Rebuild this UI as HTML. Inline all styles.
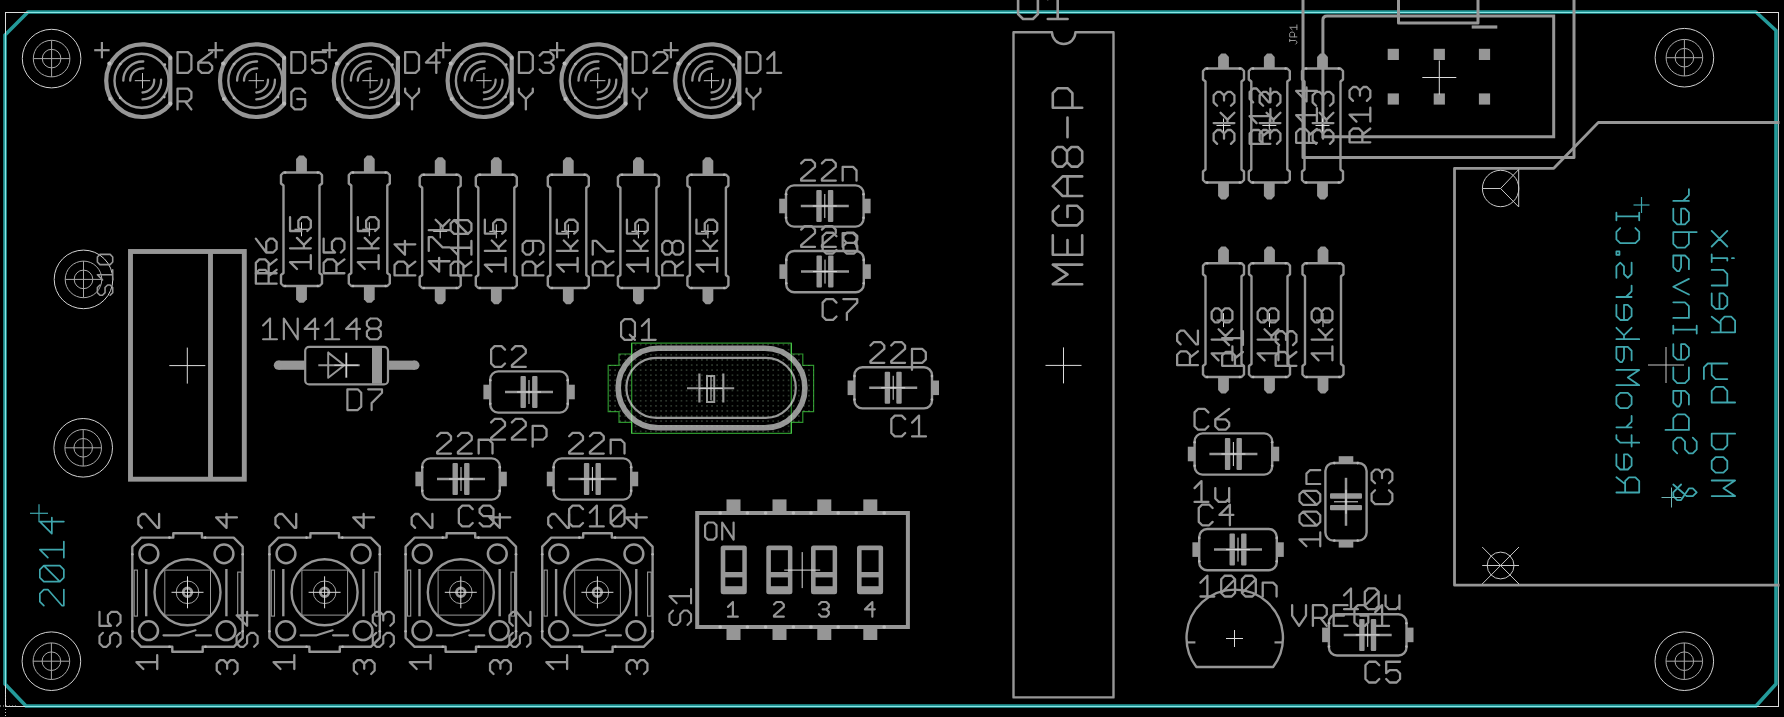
<!DOCTYPE html><html><head><meta charset="utf-8"><title>Board</title><style>html,body{margin:0;padding:0;background:#000;width:1784px;height:717px;overflow:hidden;font-family:"Liberation Sans",sans-serif;}svg{display:block}</style></head><body><svg width="1784" height="717" viewBox="0 0 1784 717"><defs><pattern id="dots" x="0.6" y="0.4" width="5.1" height="5.1" patternUnits="userSpaceOnUse"><rect x="2" y="2" width="1.1" height="1.1" fill="#a8d0a8" fill-opacity="0.6"/></pattern></defs><rect width="1784" height="717" fill="#000"/><path d="M28.00 12.00 L1756.00 12.00 L1776.00 30.50 L1776.00 684.00 L1756.00 706.00 L26.00 706.00 L5.00 684.00 L5.00 35.00 Z" fill="none" stroke="#249a9a" stroke-width="3.60" stroke-linecap="butt" stroke-linejoin="round"/>
<line x1="5.50" y1="12.50" x2="1778.50" y2="12.50" stroke="#8ae6e6" stroke-width="1.00" stroke-linecap="butt"/>
<line x1="5.50" y1="706.50" x2="1778.50" y2="706.50" stroke="#8ae6e6" stroke-width="1.00" stroke-linecap="butt"/>
<line x1="5.50" y1="12.50" x2="5.50" y2="706.50" stroke="#8ae6e6" stroke-width="1.00" stroke-linecap="butt"/>
<line x1="1778.50" y1="12.50" x2="1778.50" y2="706.50" stroke="#b8b8b8" stroke-width="1.00" stroke-linecap="butt"/>
<line x1="5.00" y1="12.50" x2="28.00" y2="12.50" stroke="#dcdcdc" stroke-width="1.00" stroke-linecap="butt"/>
<line x1="5.50" y1="12.00" x2="5.50" y2="34.00" stroke="#dcdcdc" stroke-width="1.00" stroke-linecap="butt"/>
<line x1="1756.00" y1="12.50" x2="1779.00" y2="12.50" stroke="#dcdcdc" stroke-width="1.00" stroke-linecap="butt"/>
<line x1="1778.50" y1="12.00" x2="1778.50" y2="30.00" stroke="#dcdcdc" stroke-width="1.00" stroke-linecap="butt"/>
<line x1="1757.00" y1="706.50" x2="1779.00" y2="706.50" stroke="#dcdcdc" stroke-width="1.00" stroke-linecap="butt"/>
<line x1="1778.50" y1="685.00" x2="1778.50" y2="707.00" stroke="#dcdcdc" stroke-width="1.00" stroke-linecap="butt"/>
<line x1="5.50" y1="685.00" x2="5.50" y2="707.00" stroke="#dcdcdc" stroke-width="1.00" stroke-linecap="butt"/>
<line x1="5.00" y1="706.50" x2="25.00" y2="706.50" stroke="#dcdcdc" stroke-width="1.00" stroke-linecap="butt"/>
<line x1="0" y1="706" x2="16" y2="706" stroke="#c8c8c8" stroke-width="1" stroke-dasharray="1 2"/>
<line x1="5.5" y1="694" x2="5.5" y2="717" stroke="#c8c8c8" stroke-width="1" stroke-dasharray="1 2"/>
<circle cx="51.60" cy="58.60" r="29.30" fill="none" stroke="#d2d2d2" stroke-width="1.00"/>
<circle cx="51.60" cy="58.60" r="18.30" fill="none" stroke="#a8a8a8" stroke-width="1.00"/>
<circle cx="51.60" cy="58.60" r="9.30" fill="none" stroke="#a8a8a8" stroke-width="1.00"/>
<line x1="33.30" y1="58.60" x2="69.90" y2="58.60" stroke="#a8a8a8" stroke-width="1.00" stroke-linecap="butt"/>
<line x1="51.60" y1="40.30" x2="51.60" y2="76.90" stroke="#a8a8a8" stroke-width="1.00" stroke-linecap="butt"/>
<circle cx="1684.40" cy="57.70" r="29.30" fill="none" stroke="#d2d2d2" stroke-width="1.00"/>
<circle cx="1684.40" cy="57.70" r="18.30" fill="none" stroke="#a8a8a8" stroke-width="1.00"/>
<circle cx="1684.40" cy="57.70" r="9.30" fill="none" stroke="#a8a8a8" stroke-width="1.00"/>
<line x1="1666.10" y1="57.70" x2="1702.70" y2="57.70" stroke="#a8a8a8" stroke-width="1.00" stroke-linecap="butt"/>
<line x1="1684.40" y1="39.40" x2="1684.40" y2="76.00" stroke="#a8a8a8" stroke-width="1.00" stroke-linecap="butt"/>
<circle cx="51.40" cy="661.20" r="29.30" fill="none" stroke="#d2d2d2" stroke-width="1.00"/>
<circle cx="51.40" cy="661.20" r="18.30" fill="none" stroke="#a8a8a8" stroke-width="1.00"/>
<circle cx="51.40" cy="661.20" r="9.30" fill="none" stroke="#a8a8a8" stroke-width="1.00"/>
<line x1="33.10" y1="661.20" x2="69.70" y2="661.20" stroke="#a8a8a8" stroke-width="1.00" stroke-linecap="butt"/>
<line x1="51.40" y1="642.90" x2="51.40" y2="679.50" stroke="#a8a8a8" stroke-width="1.00" stroke-linecap="butt"/>
<circle cx="1684.30" cy="661.20" r="29.30" fill="none" stroke="#d2d2d2" stroke-width="1.00"/>
<circle cx="1684.30" cy="661.20" r="18.30" fill="none" stroke="#a8a8a8" stroke-width="1.00"/>
<circle cx="1684.30" cy="661.20" r="9.30" fill="none" stroke="#a8a8a8" stroke-width="1.00"/>
<line x1="1666.00" y1="661.20" x2="1702.60" y2="661.20" stroke="#a8a8a8" stroke-width="1.00" stroke-linecap="butt"/>
<line x1="1684.30" y1="642.90" x2="1684.30" y2="679.50" stroke="#a8a8a8" stroke-width="1.00" stroke-linecap="butt"/>
<circle cx="83.50" cy="279.40" r="29.30" fill="none" stroke="#d2d2d2" stroke-width="1.00"/>
<circle cx="83.50" cy="279.40" r="18.30" fill="none" stroke="#a8a8a8" stroke-width="1.00"/>
<circle cx="83.50" cy="279.40" r="9.30" fill="none" stroke="#a8a8a8" stroke-width="1.00"/>
<line x1="65.20" y1="279.40" x2="101.80" y2="279.40" stroke="#a8a8a8" stroke-width="1.00" stroke-linecap="butt"/>
<line x1="83.50" y1="261.10" x2="83.50" y2="297.70" stroke="#a8a8a8" stroke-width="1.00" stroke-linecap="butt"/>
<circle cx="83.20" cy="447.80" r="29.30" fill="none" stroke="#d2d2d2" stroke-width="1.00"/>
<circle cx="83.20" cy="447.80" r="18.30" fill="none" stroke="#a8a8a8" stroke-width="1.00"/>
<circle cx="83.20" cy="447.80" r="9.30" fill="none" stroke="#a8a8a8" stroke-width="1.00"/>
<line x1="64.90" y1="447.80" x2="101.50" y2="447.80" stroke="#a8a8a8" stroke-width="1.00" stroke-linecap="butt"/>
<line x1="83.20" y1="429.50" x2="83.20" y2="466.10" stroke="#a8a8a8" stroke-width="1.00" stroke-linecap="butt"/>
<path d="M170.30 57.36 A36.30 36.30 0 1 0 170.30 104.04 Z" fill="none" stroke="#969696" stroke-width="4.20" stroke-linecap="round" stroke-linejoin="round"/>
<circle cx="141.50" cy="80.70" r="27.00" fill="none" stroke="#969696" stroke-width="2.40"/>
<path d="M123.30 80.70 A19.20 19.20 0 0 1 143.30 61.50" fill="none" stroke="#969696" stroke-width="2.30" stroke-linecap="round" stroke-linejoin="round"/>
<path d="M161.10 79.70 A19.20 19.20 0 0 1 142.50 99.40" fill="none" stroke="#969696" stroke-width="2.30" stroke-linecap="round" stroke-linejoin="round"/>
<path d="M130.20 80.70 A12.30 12.30 0 0 1 143.30 68.40" fill="none" stroke="#969696" stroke-width="2.30" stroke-linecap="round" stroke-linejoin="round"/>
<path d="M154.20 79.70 A12.30 12.30 0 0 1 142.50 92.50" fill="none" stroke="#969696" stroke-width="2.30" stroke-linecap="round" stroke-linejoin="round"/>
<line x1="134.80" y1="80.70" x2="150.20" y2="80.70" stroke="#c0c0c0" stroke-width="1.00" stroke-linecap="butt"/>
<line x1="142.50" y1="73.00" x2="142.50" y2="88.40" stroke="#c0c0c0" stroke-width="1.00" stroke-linecap="butt"/>
<circle cx="170.30" cy="57.90" r="2.00" fill="#bcbcbc"/>
<circle cx="170.30" cy="103.50" r="2.00" fill="#bcbcbc"/>
<circle cx="109.30" cy="63.50" r="2.00" fill="#bcbcbc"/>
<circle cx="110.20" cy="98.90" r="2.00" fill="#bcbcbc"/>
<circle cx="120.20" cy="64.10" r="1.40" fill="#b0b0b0"/>
<circle cx="164.80" cy="64.70" r="1.40" fill="#b0b0b0"/>
<circle cx="120.20" cy="97.90" r="1.40" fill="#b0b0b0"/>
<circle cx="164.20" cy="97.10" r="1.40" fill="#b0b0b0"/>
<line x1="94.20" y1="50.20" x2="109.60" y2="50.20" stroke="#969696" stroke-width="2.20" stroke-linecap="butt"/>
<line x1="101.90" y1="42.00" x2="101.90" y2="58.30" stroke="#969696" stroke-width="2.20" stroke-linecap="butt"/>
<path transform="translate(177.55 52.15)" d="M0.00 0.00 L10.38 0.00 L13.84 3.46 L13.84 17.30 L10.38 20.76 L0.00 20.76 L0.00 0.00 M34.60 0.00 L20.76 10.38 L20.76 17.30 L24.22 20.76 L31.14 20.76 L34.60 17.30 L34.60 13.84 L31.14 10.38 L20.76 10.38" fill="none" stroke="#969696" stroke-width="2.30" stroke-linecap="round" stroke-linejoin="round"/>
<path transform="translate(177.55 88.65)" d="M0.00 20.76 L0.00 0.00 L10.38 0.00 L13.84 3.46 L13.84 9.34 L10.38 12.80 L0.00 12.80 M7.61 12.80 L13.84 20.76" fill="none" stroke="#969696" stroke-width="2.30" stroke-linecap="round" stroke-linejoin="round"/>
<path d="M284.10 57.36 A36.30 36.30 0 1 0 284.10 104.04 Z" fill="none" stroke="#969696" stroke-width="4.20" stroke-linecap="round" stroke-linejoin="round"/>
<circle cx="255.30" cy="80.70" r="27.00" fill="none" stroke="#969696" stroke-width="2.40"/>
<path d="M237.10 80.70 A19.20 19.20 0 0 1 257.10 61.50" fill="none" stroke="#969696" stroke-width="2.30" stroke-linecap="round" stroke-linejoin="round"/>
<path d="M274.90 79.70 A19.20 19.20 0 0 1 256.30 99.40" fill="none" stroke="#969696" stroke-width="2.30" stroke-linecap="round" stroke-linejoin="round"/>
<path d="M244.00 80.70 A12.30 12.30 0 0 1 257.10 68.40" fill="none" stroke="#969696" stroke-width="2.30" stroke-linecap="round" stroke-linejoin="round"/>
<path d="M268.00 79.70 A12.30 12.30 0 0 1 256.30 92.50" fill="none" stroke="#969696" stroke-width="2.30" stroke-linecap="round" stroke-linejoin="round"/>
<line x1="248.60" y1="80.70" x2="264.00" y2="80.70" stroke="#c0c0c0" stroke-width="1.00" stroke-linecap="butt"/>
<line x1="256.30" y1="73.00" x2="256.30" y2="88.40" stroke="#c0c0c0" stroke-width="1.00" stroke-linecap="butt"/>
<circle cx="284.10" cy="57.90" r="2.00" fill="#bcbcbc"/>
<circle cx="284.10" cy="103.50" r="2.00" fill="#bcbcbc"/>
<circle cx="223.10" cy="63.50" r="2.00" fill="#bcbcbc"/>
<circle cx="224.00" cy="98.90" r="2.00" fill="#bcbcbc"/>
<circle cx="234.00" cy="64.10" r="1.40" fill="#b0b0b0"/>
<circle cx="278.60" cy="64.70" r="1.40" fill="#b0b0b0"/>
<circle cx="234.00" cy="97.90" r="1.40" fill="#b0b0b0"/>
<circle cx="278.00" cy="97.10" r="1.40" fill="#b0b0b0"/>
<line x1="208.00" y1="50.20" x2="223.40" y2="50.20" stroke="#969696" stroke-width="2.20" stroke-linecap="butt"/>
<line x1="215.70" y1="42.00" x2="215.70" y2="58.30" stroke="#969696" stroke-width="2.20" stroke-linecap="butt"/>
<path transform="translate(291.35 52.15)" d="M0.00 0.00 L10.38 0.00 L13.84 3.46 L13.84 17.30 L10.38 20.76 L0.00 20.76 L0.00 0.00 M34.60 0.00 L20.76 0.00 L20.76 11.42 L24.22 8.30 L31.14 8.30 L34.60 11.76 L34.60 17.30 L31.14 20.76 L24.22 20.76 L20.76 17.30" fill="none" stroke="#969696" stroke-width="2.30" stroke-linecap="round" stroke-linejoin="round"/>
<path transform="translate(291.35 88.65)" d="M13.84 4.15 L9.69 0.00 L3.46 0.00 L0.00 3.46 L0.00 17.30 L3.46 20.76 L10.38 20.76 L13.84 17.30 L13.84 10.38 L5.88 10.38" fill="none" stroke="#969696" stroke-width="2.30" stroke-linecap="round" stroke-linejoin="round"/>
<path d="M397.90 57.36 A36.30 36.30 0 1 0 397.90 104.04 Z" fill="none" stroke="#969696" stroke-width="4.20" stroke-linecap="round" stroke-linejoin="round"/>
<circle cx="369.10" cy="80.70" r="27.00" fill="none" stroke="#969696" stroke-width="2.40"/>
<path d="M350.90 80.70 A19.20 19.20 0 0 1 370.90 61.50" fill="none" stroke="#969696" stroke-width="2.30" stroke-linecap="round" stroke-linejoin="round"/>
<path d="M388.70 79.70 A19.20 19.20 0 0 1 370.10 99.40" fill="none" stroke="#969696" stroke-width="2.30" stroke-linecap="round" stroke-linejoin="round"/>
<path d="M357.80 80.70 A12.30 12.30 0 0 1 370.90 68.40" fill="none" stroke="#969696" stroke-width="2.30" stroke-linecap="round" stroke-linejoin="round"/>
<path d="M381.80 79.70 A12.30 12.30 0 0 1 370.10 92.50" fill="none" stroke="#969696" stroke-width="2.30" stroke-linecap="round" stroke-linejoin="round"/>
<line x1="362.40" y1="80.70" x2="377.80" y2="80.70" stroke="#c0c0c0" stroke-width="1.00" stroke-linecap="butt"/>
<line x1="370.10" y1="73.00" x2="370.10" y2="88.40" stroke="#c0c0c0" stroke-width="1.00" stroke-linecap="butt"/>
<circle cx="397.90" cy="57.90" r="2.00" fill="#bcbcbc"/>
<circle cx="397.90" cy="103.50" r="2.00" fill="#bcbcbc"/>
<circle cx="336.90" cy="63.50" r="2.00" fill="#bcbcbc"/>
<circle cx="337.80" cy="98.90" r="2.00" fill="#bcbcbc"/>
<circle cx="347.80" cy="64.10" r="1.40" fill="#b0b0b0"/>
<circle cx="392.40" cy="64.70" r="1.40" fill="#b0b0b0"/>
<circle cx="347.80" cy="97.90" r="1.40" fill="#b0b0b0"/>
<circle cx="391.80" cy="97.10" r="1.40" fill="#b0b0b0"/>
<line x1="321.80" y1="50.20" x2="337.20" y2="50.20" stroke="#969696" stroke-width="2.20" stroke-linecap="butt"/>
<line x1="329.50" y1="42.00" x2="329.50" y2="58.30" stroke="#969696" stroke-width="2.20" stroke-linecap="butt"/>
<path transform="translate(405.15 52.15)" d="M0.00 0.00 L10.38 0.00 L13.84 3.46 L13.84 17.30 L10.38 20.76 L0.00 20.76 L0.00 0.00 M31.14 20.76 L31.14 0.00 L20.76 10.38 L34.60 10.38" fill="none" stroke="#969696" stroke-width="2.30" stroke-linecap="round" stroke-linejoin="round"/>
<path transform="translate(405.15 88.65)" d="M0.00 0.00 L0.00 3.46 L6.92 10.38 L13.84 3.46 L13.84 0.00 M6.92 10.38 L6.92 20.76" fill="none" stroke="#969696" stroke-width="2.30" stroke-linecap="round" stroke-linejoin="round"/>
<path d="M511.70 57.36 A36.30 36.30 0 1 0 511.70 104.04 Z" fill="none" stroke="#969696" stroke-width="4.20" stroke-linecap="round" stroke-linejoin="round"/>
<circle cx="482.90" cy="80.70" r="27.00" fill="none" stroke="#969696" stroke-width="2.40"/>
<path d="M464.70 80.70 A19.20 19.20 0 0 1 484.70 61.50" fill="none" stroke="#969696" stroke-width="2.30" stroke-linecap="round" stroke-linejoin="round"/>
<path d="M502.50 79.70 A19.20 19.20 0 0 1 483.90 99.40" fill="none" stroke="#969696" stroke-width="2.30" stroke-linecap="round" stroke-linejoin="round"/>
<path d="M471.60 80.70 A12.30 12.30 0 0 1 484.70 68.40" fill="none" stroke="#969696" stroke-width="2.30" stroke-linecap="round" stroke-linejoin="round"/>
<path d="M495.60 79.70 A12.30 12.30 0 0 1 483.90 92.50" fill="none" stroke="#969696" stroke-width="2.30" stroke-linecap="round" stroke-linejoin="round"/>
<line x1="476.20" y1="80.70" x2="491.60" y2="80.70" stroke="#c0c0c0" stroke-width="1.00" stroke-linecap="butt"/>
<line x1="483.90" y1="73.00" x2="483.90" y2="88.40" stroke="#c0c0c0" stroke-width="1.00" stroke-linecap="butt"/>
<circle cx="511.70" cy="57.90" r="2.00" fill="#bcbcbc"/>
<circle cx="511.70" cy="103.50" r="2.00" fill="#bcbcbc"/>
<circle cx="450.70" cy="63.50" r="2.00" fill="#bcbcbc"/>
<circle cx="451.60" cy="98.90" r="2.00" fill="#bcbcbc"/>
<circle cx="461.60" cy="64.10" r="1.40" fill="#b0b0b0"/>
<circle cx="506.20" cy="64.70" r="1.40" fill="#b0b0b0"/>
<circle cx="461.60" cy="97.90" r="1.40" fill="#b0b0b0"/>
<circle cx="505.60" cy="97.10" r="1.40" fill="#b0b0b0"/>
<line x1="435.60" y1="50.20" x2="451.00" y2="50.20" stroke="#969696" stroke-width="2.20" stroke-linecap="butt"/>
<line x1="443.30" y1="42.00" x2="443.30" y2="58.30" stroke="#969696" stroke-width="2.20" stroke-linecap="butt"/>
<path transform="translate(518.95 52.15)" d="M0.00 0.00 L10.38 0.00 L13.84 3.46 L13.84 17.30 L10.38 20.76 L0.00 20.76 L0.00 0.00 M20.76 3.46 L24.22 0.00 L31.14 0.00 L34.60 3.46 L34.60 6.92 L31.14 10.38 L34.60 13.84 L34.60 17.30 L31.14 20.76 L24.22 20.76 L20.76 17.30 M25.95 10.38 L31.14 10.38" fill="none" stroke="#969696" stroke-width="2.30" stroke-linecap="round" stroke-linejoin="round"/>
<path transform="translate(518.95 88.65)" d="M0.00 0.00 L0.00 3.46 L6.92 10.38 L13.84 3.46 L13.84 0.00 M6.92 10.38 L6.92 20.76" fill="none" stroke="#969696" stroke-width="2.30" stroke-linecap="round" stroke-linejoin="round"/>
<path d="M625.50 57.36 A36.30 36.30 0 1 0 625.50 104.04 Z" fill="none" stroke="#969696" stroke-width="4.20" stroke-linecap="round" stroke-linejoin="round"/>
<circle cx="596.70" cy="80.70" r="27.00" fill="none" stroke="#969696" stroke-width="2.40"/>
<path d="M578.50 80.70 A19.20 19.20 0 0 1 598.50 61.50" fill="none" stroke="#969696" stroke-width="2.30" stroke-linecap="round" stroke-linejoin="round"/>
<path d="M616.30 79.70 A19.20 19.20 0 0 1 597.70 99.40" fill="none" stroke="#969696" stroke-width="2.30" stroke-linecap="round" stroke-linejoin="round"/>
<path d="M585.40 80.70 A12.30 12.30 0 0 1 598.50 68.40" fill="none" stroke="#969696" stroke-width="2.30" stroke-linecap="round" stroke-linejoin="round"/>
<path d="M609.40 79.70 A12.30 12.30 0 0 1 597.70 92.50" fill="none" stroke="#969696" stroke-width="2.30" stroke-linecap="round" stroke-linejoin="round"/>
<line x1="590.00" y1="80.70" x2="605.40" y2="80.70" stroke="#c0c0c0" stroke-width="1.00" stroke-linecap="butt"/>
<line x1="597.70" y1="73.00" x2="597.70" y2="88.40" stroke="#c0c0c0" stroke-width="1.00" stroke-linecap="butt"/>
<circle cx="625.50" cy="57.90" r="2.00" fill="#bcbcbc"/>
<circle cx="625.50" cy="103.50" r="2.00" fill="#bcbcbc"/>
<circle cx="564.50" cy="63.50" r="2.00" fill="#bcbcbc"/>
<circle cx="565.40" cy="98.90" r="2.00" fill="#bcbcbc"/>
<circle cx="575.40" cy="64.10" r="1.40" fill="#b0b0b0"/>
<circle cx="620.00" cy="64.70" r="1.40" fill="#b0b0b0"/>
<circle cx="575.40" cy="97.90" r="1.40" fill="#b0b0b0"/>
<circle cx="619.40" cy="97.10" r="1.40" fill="#b0b0b0"/>
<line x1="549.40" y1="50.20" x2="564.80" y2="50.20" stroke="#969696" stroke-width="2.20" stroke-linecap="butt"/>
<line x1="557.10" y1="42.00" x2="557.10" y2="58.30" stroke="#969696" stroke-width="2.20" stroke-linecap="butt"/>
<path transform="translate(632.75 52.15)" d="M0.00 0.00 L10.38 0.00 L13.84 3.46 L13.84 17.30 L10.38 20.76 L0.00 20.76 L0.00 0.00 M20.76 3.46 L24.22 0.00 L31.14 0.00 L34.60 3.46 L34.60 6.92 L20.76 19.03 L20.76 20.76 L34.60 20.76" fill="none" stroke="#969696" stroke-width="2.30" stroke-linecap="round" stroke-linejoin="round"/>
<path transform="translate(632.75 88.65)" d="M0.00 0.00 L0.00 3.46 L6.92 10.38 L13.84 3.46 L13.84 0.00 M6.92 10.38 L6.92 20.76" fill="none" stroke="#969696" stroke-width="2.30" stroke-linecap="round" stroke-linejoin="round"/>
<path d="M739.30 57.36 A36.30 36.30 0 1 0 739.30 104.04 Z" fill="none" stroke="#969696" stroke-width="4.20" stroke-linecap="round" stroke-linejoin="round"/>
<circle cx="710.50" cy="80.70" r="27.00" fill="none" stroke="#969696" stroke-width="2.40"/>
<path d="M692.30 80.70 A19.20 19.20 0 0 1 712.30 61.50" fill="none" stroke="#969696" stroke-width="2.30" stroke-linecap="round" stroke-linejoin="round"/>
<path d="M730.10 79.70 A19.20 19.20 0 0 1 711.50 99.40" fill="none" stroke="#969696" stroke-width="2.30" stroke-linecap="round" stroke-linejoin="round"/>
<path d="M699.20 80.70 A12.30 12.30 0 0 1 712.30 68.40" fill="none" stroke="#969696" stroke-width="2.30" stroke-linecap="round" stroke-linejoin="round"/>
<path d="M723.20 79.70 A12.30 12.30 0 0 1 711.50 92.50" fill="none" stroke="#969696" stroke-width="2.30" stroke-linecap="round" stroke-linejoin="round"/>
<line x1="703.80" y1="80.70" x2="719.20" y2="80.70" stroke="#c0c0c0" stroke-width="1.00" stroke-linecap="butt"/>
<line x1="711.50" y1="73.00" x2="711.50" y2="88.40" stroke="#c0c0c0" stroke-width="1.00" stroke-linecap="butt"/>
<circle cx="739.30" cy="57.90" r="2.00" fill="#bcbcbc"/>
<circle cx="739.30" cy="103.50" r="2.00" fill="#bcbcbc"/>
<circle cx="678.30" cy="63.50" r="2.00" fill="#bcbcbc"/>
<circle cx="679.20" cy="98.90" r="2.00" fill="#bcbcbc"/>
<circle cx="689.20" cy="64.10" r="1.40" fill="#b0b0b0"/>
<circle cx="733.80" cy="64.70" r="1.40" fill="#b0b0b0"/>
<circle cx="689.20" cy="97.90" r="1.40" fill="#b0b0b0"/>
<circle cx="733.20" cy="97.10" r="1.40" fill="#b0b0b0"/>
<line x1="663.20" y1="50.20" x2="678.60" y2="50.20" stroke="#969696" stroke-width="2.20" stroke-linecap="butt"/>
<line x1="670.90" y1="42.00" x2="670.90" y2="58.30" stroke="#969696" stroke-width="2.20" stroke-linecap="butt"/>
<path transform="translate(746.55 52.15)" d="M0.00 0.00 L10.38 0.00 L13.84 3.46 L13.84 17.30 L10.38 20.76 L0.00 20.76 L0.00 0.00 M20.76 6.92 L27.68 0.00 L27.68 20.76 M20.76 20.76 L34.60 20.76" fill="none" stroke="#969696" stroke-width="2.30" stroke-linecap="round" stroke-linejoin="round"/>
<path transform="translate(746.55 88.65)" d="M0.00 0.00 L0.00 3.46 L6.92 10.38 L13.84 3.46 L13.84 0.00 M6.92 10.38 L6.92 20.76" fill="none" stroke="#969696" stroke-width="2.30" stroke-linecap="round" stroke-linejoin="round"/>
<rect x="130.5" y="251.5" width="113.8" height="227.7" fill="none" stroke="#969696" stroke-width="4.9"/>
<line x1="210.50" y1="251.50" x2="210.50" y2="479.20" stroke="#969696" stroke-width="4.90" stroke-linecap="butt"/>
<line x1="169.30" y1="365.60" x2="205.30" y2="365.60" stroke="#dcdcdc" stroke-width="1.00" stroke-linecap="butt"/>
<line x1="187.30" y1="347.60" x2="187.30" y2="383.60" stroke="#dcdcdc" stroke-width="1.00" stroke-linecap="butt"/>
<path transform="matrix(0 -1 1 0 97.40 295.20)" d="M10.20 2.55 L7.65 0.00 L2.55 0.00 L0.00 2.55 L0.00 5.10 L2.55 7.65 L7.65 7.65 L10.20 10.20 L10.20 12.75 L7.65 15.30 L2.55 15.30 L0.00 12.75 M15.30 5.10 L20.40 0.00 L20.40 15.30 M15.30 15.30 L25.50 15.30 M33.15 0.00 L38.25 0.00 L40.80 2.55 L40.80 12.75 L38.25 15.30 L33.15 15.30 L30.60 12.75 L30.60 2.55 L33.15 0.00" fill="none" stroke="#969696" stroke-width="1.60" stroke-linecap="round" stroke-linejoin="round"/>
<path d="M283.50 172.50 L319.50 172.50 L322.00 175.00 L322.00 183.50 L319.50 185.50 L319.50 273.00 L322.00 275.00 L322.00 283.50 L319.50 286.00 L283.50 286.00 L281.00 283.50 L281.00 275.00 L283.50 273.00 L283.50 185.50 L281.00 183.50 L281.00 175.00 Z" fill="none" stroke="#969696" stroke-width="2.40" stroke-linecap="round" stroke-linejoin="round"/>
<path d="M296.10 172.50 L296.10 159.00 L299.30 155.50 L303.70 155.50 L306.90 159.00 L306.90 172.50 Z" fill="#969696" stroke="#969696" stroke-width="0.01" stroke-linecap="round" stroke-linejoin="round"/>
<path d="M296.10 286.00 L296.10 299.20 L299.30 302.70 L303.70 302.70 L306.90 299.20 L306.90 286.00 Z" fill="#969696" stroke="#969696" stroke-width="0.01" stroke-linecap="round" stroke-linejoin="round"/>
<line x1="294.50" y1="229.25" x2="308.50" y2="229.25" stroke="#dcdcdc" stroke-width="1.00" stroke-linecap="butt"/>
<line x1="301.50" y1="222.25" x2="301.50" y2="236.25" stroke="#dcdcdc" stroke-width="1.00" stroke-linecap="butt"/>
<circle cx="285.20" cy="172.50" r="1.30" fill="#b4b4b4"/>
<circle cx="285.20" cy="286.00" r="1.30" fill="#b4b4b4"/>
<circle cx="317.80" cy="172.50" r="1.30" fill="#b4b4b4"/>
<circle cx="317.80" cy="286.00" r="1.30" fill="#b4b4b4"/>
<path d="M351.30 172.50 L387.30 172.50 L389.80 175.00 L389.80 183.50 L387.30 185.50 L387.30 273.00 L389.80 275.00 L389.80 283.50 L387.30 286.00 L351.30 286.00 L348.80 283.50 L348.80 275.00 L351.30 273.00 L351.30 185.50 L348.80 183.50 L348.80 175.00 Z" fill="none" stroke="#969696" stroke-width="2.40" stroke-linecap="round" stroke-linejoin="round"/>
<path d="M363.90 172.50 L363.90 159.00 L367.10 155.50 L371.50 155.50 L374.70 159.00 L374.70 172.50 Z" fill="#969696" stroke="#969696" stroke-width="0.01" stroke-linecap="round" stroke-linejoin="round"/>
<path d="M363.90 286.00 L363.90 299.20 L367.10 302.70 L371.50 302.70 L374.70 299.20 L374.70 286.00 Z" fill="#969696" stroke="#969696" stroke-width="0.01" stroke-linecap="round" stroke-linejoin="round"/>
<line x1="362.30" y1="229.25" x2="376.30" y2="229.25" stroke="#dcdcdc" stroke-width="1.00" stroke-linecap="butt"/>
<line x1="369.30" y1="222.25" x2="369.30" y2="236.25" stroke="#dcdcdc" stroke-width="1.00" stroke-linecap="butt"/>
<circle cx="353.00" cy="172.50" r="1.30" fill="#b4b4b4"/>
<circle cx="353.00" cy="286.00" r="1.30" fill="#b4b4b4"/>
<circle cx="385.60" cy="172.50" r="1.30" fill="#b4b4b4"/>
<circle cx="385.60" cy="286.00" r="1.30" fill="#b4b4b4"/>
<path d="M422.20 174.70 L458.20 174.70 L460.70 177.20 L460.70 185.70 L458.20 187.70 L458.20 275.00 L460.70 277.00 L460.70 285.50 L458.20 288.00 L422.20 288.00 L419.70 285.50 L419.70 277.00 L422.20 275.00 L422.20 187.70 L419.70 185.70 L419.70 177.20 Z" fill="none" stroke="#969696" stroke-width="2.40" stroke-linecap="round" stroke-linejoin="round"/>
<path d="M434.80 174.70 L434.80 160.70 L438.00 157.20 L442.40 157.20 L445.60 160.70 L445.60 174.70 Z" fill="#969696" stroke="#969696" stroke-width="0.01" stroke-linecap="round" stroke-linejoin="round"/>
<path d="M434.80 288.00 L434.80 300.80 L438.00 304.30 L442.40 304.30 L445.60 300.80 L445.60 288.00 Z" fill="#969696" stroke="#969696" stroke-width="0.01" stroke-linecap="round" stroke-linejoin="round"/>
<line x1="433.20" y1="231.35" x2="447.20" y2="231.35" stroke="#dcdcdc" stroke-width="1.00" stroke-linecap="butt"/>
<line x1="440.20" y1="224.35" x2="440.20" y2="238.35" stroke="#dcdcdc" stroke-width="1.00" stroke-linecap="butt"/>
<circle cx="423.90" cy="174.70" r="1.30" fill="#b4b4b4"/>
<circle cx="423.90" cy="288.00" r="1.30" fill="#b4b4b4"/>
<circle cx="456.50" cy="174.70" r="1.30" fill="#b4b4b4"/>
<circle cx="456.50" cy="288.00" r="1.30" fill="#b4b4b4"/>
<path d="M478.30 174.70 L514.30 174.70 L516.80 177.20 L516.80 185.70 L514.30 187.70 L514.30 275.00 L516.80 277.00 L516.80 285.50 L514.30 288.00 L478.30 288.00 L475.80 285.50 L475.80 277.00 L478.30 275.00 L478.30 187.70 L475.80 185.70 L475.80 177.20 Z" fill="none" stroke="#969696" stroke-width="2.40" stroke-linecap="round" stroke-linejoin="round"/>
<path d="M490.90 174.70 L490.90 160.70 L494.10 157.20 L498.50 157.20 L501.70 160.70 L501.70 174.70 Z" fill="#969696" stroke="#969696" stroke-width="0.01" stroke-linecap="round" stroke-linejoin="round"/>
<path d="M490.90 288.00 L490.90 300.80 L494.10 304.30 L498.50 304.30 L501.70 300.80 L501.70 288.00 Z" fill="#969696" stroke="#969696" stroke-width="0.01" stroke-linecap="round" stroke-linejoin="round"/>
<line x1="489.30" y1="231.35" x2="503.30" y2="231.35" stroke="#dcdcdc" stroke-width="1.00" stroke-linecap="butt"/>
<line x1="496.30" y1="224.35" x2="496.30" y2="238.35" stroke="#dcdcdc" stroke-width="1.00" stroke-linecap="butt"/>
<circle cx="480.00" cy="174.70" r="1.30" fill="#b4b4b4"/>
<circle cx="480.00" cy="288.00" r="1.30" fill="#b4b4b4"/>
<circle cx="512.60" cy="174.70" r="1.30" fill="#b4b4b4"/>
<circle cx="512.60" cy="288.00" r="1.30" fill="#b4b4b4"/>
<path d="M550.30 174.70 L586.30 174.70 L588.80 177.20 L588.80 185.70 L586.30 187.70 L586.30 275.00 L588.80 277.00 L588.80 285.50 L586.30 288.00 L550.30 288.00 L547.80 285.50 L547.80 277.00 L550.30 275.00 L550.30 187.70 L547.80 185.70 L547.80 177.20 Z" fill="none" stroke="#969696" stroke-width="2.40" stroke-linecap="round" stroke-linejoin="round"/>
<path d="M562.90 174.70 L562.90 160.70 L566.10 157.20 L570.50 157.20 L573.70 160.70 L573.70 174.70 Z" fill="#969696" stroke="#969696" stroke-width="0.01" stroke-linecap="round" stroke-linejoin="round"/>
<path d="M562.90 288.00 L562.90 300.80 L566.10 304.30 L570.50 304.30 L573.70 300.80 L573.70 288.00 Z" fill="#969696" stroke="#969696" stroke-width="0.01" stroke-linecap="round" stroke-linejoin="round"/>
<line x1="561.30" y1="231.35" x2="575.30" y2="231.35" stroke="#dcdcdc" stroke-width="1.00" stroke-linecap="butt"/>
<line x1="568.30" y1="224.35" x2="568.30" y2="238.35" stroke="#dcdcdc" stroke-width="1.00" stroke-linecap="butt"/>
<circle cx="552.00" cy="174.70" r="1.30" fill="#b4b4b4"/>
<circle cx="552.00" cy="288.00" r="1.30" fill="#b4b4b4"/>
<circle cx="584.60" cy="174.70" r="1.30" fill="#b4b4b4"/>
<circle cx="584.60" cy="288.00" r="1.30" fill="#b4b4b4"/>
<path d="M620.40 174.70 L656.40 174.70 L658.90 177.20 L658.90 185.70 L656.40 187.70 L656.40 275.00 L658.90 277.00 L658.90 285.50 L656.40 288.00 L620.40 288.00 L617.90 285.50 L617.90 277.00 L620.40 275.00 L620.40 187.70 L617.90 185.70 L617.90 177.20 Z" fill="none" stroke="#969696" stroke-width="2.40" stroke-linecap="round" stroke-linejoin="round"/>
<path d="M633.00 174.70 L633.00 160.70 L636.20 157.20 L640.60 157.20 L643.80 160.70 L643.80 174.70 Z" fill="#969696" stroke="#969696" stroke-width="0.01" stroke-linecap="round" stroke-linejoin="round"/>
<path d="M633.00 288.00 L633.00 300.80 L636.20 304.30 L640.60 304.30 L643.80 300.80 L643.80 288.00 Z" fill="#969696" stroke="#969696" stroke-width="0.01" stroke-linecap="round" stroke-linejoin="round"/>
<line x1="631.40" y1="231.35" x2="645.40" y2="231.35" stroke="#dcdcdc" stroke-width="1.00" stroke-linecap="butt"/>
<line x1="638.40" y1="224.35" x2="638.40" y2="238.35" stroke="#dcdcdc" stroke-width="1.00" stroke-linecap="butt"/>
<circle cx="622.10" cy="174.70" r="1.30" fill="#b4b4b4"/>
<circle cx="622.10" cy="288.00" r="1.30" fill="#b4b4b4"/>
<circle cx="654.70" cy="174.70" r="1.30" fill="#b4b4b4"/>
<circle cx="654.70" cy="288.00" r="1.30" fill="#b4b4b4"/>
<path d="M689.90 174.70 L725.90 174.70 L728.40 177.20 L728.40 185.70 L725.90 187.70 L725.90 275.00 L728.40 277.00 L728.40 285.50 L725.90 288.00 L689.90 288.00 L687.40 285.50 L687.40 277.00 L689.90 275.00 L689.90 187.70 L687.40 185.70 L687.40 177.20 Z" fill="none" stroke="#969696" stroke-width="2.40" stroke-linecap="round" stroke-linejoin="round"/>
<path d="M702.50 174.70 L702.50 160.70 L705.70 157.20 L710.10 157.20 L713.30 160.70 L713.30 174.70 Z" fill="#969696" stroke="#969696" stroke-width="0.01" stroke-linecap="round" stroke-linejoin="round"/>
<path d="M702.50 288.00 L702.50 300.80 L705.70 304.30 L710.10 304.30 L713.30 300.80 L713.30 288.00 Z" fill="#969696" stroke="#969696" stroke-width="0.01" stroke-linecap="round" stroke-linejoin="round"/>
<line x1="700.90" y1="231.35" x2="714.90" y2="231.35" stroke="#dcdcdc" stroke-width="1.00" stroke-linecap="butt"/>
<line x1="707.90" y1="224.35" x2="707.90" y2="238.35" stroke="#dcdcdc" stroke-width="1.00" stroke-linecap="butt"/>
<circle cx="691.60" cy="174.70" r="1.30" fill="#b4b4b4"/>
<circle cx="691.60" cy="288.00" r="1.30" fill="#b4b4b4"/>
<circle cx="724.20" cy="174.70" r="1.30" fill="#b4b4b4"/>
<circle cx="724.20" cy="288.00" r="1.30" fill="#b4b4b4"/>
<path transform="matrix(0 -1 1 0 290.05 269.05)" d="M0.00 6.92 L6.92 0.00 L6.92 20.76 M0.00 20.76 L13.84 20.76 M20.76 0.00 L20.76 20.76 M31.14 6.92 L24.22 13.84 L31.14 20.76 M20.76 13.84 L24.22 13.84 M51.90 0.00 L38.06 0.00 L38.06 11.42 L41.52 8.30 L48.44 8.30 L51.90 11.76 L51.90 17.30 L48.44 20.76 L41.52 20.76 L38.06 17.30" fill="none" stroke="#969696" stroke-width="2.30" stroke-linecap="round" stroke-linejoin="round"/>
<path transform="matrix(0 -1 1 0 357.85 269.05)" d="M0.00 6.92 L6.92 0.00 L6.92 20.76 M0.00 20.76 L13.84 20.76 M20.76 0.00 L20.76 20.76 M31.14 6.92 L24.22 13.84 L31.14 20.76 M20.76 13.84 L24.22 13.84 M51.90 0.00 L38.06 0.00 L38.06 11.42 L41.52 8.30 L48.44 8.30 L51.90 11.76 L51.90 17.30 L48.44 20.76 L41.52 20.76 L38.06 17.30" fill="none" stroke="#969696" stroke-width="2.30" stroke-linecap="round" stroke-linejoin="round"/>
<path transform="matrix(0 -1 1 0 428.75 271.65)" d="M10.38 20.76 L10.38 0.00 L0.00 10.38 L13.84 10.38 M20.76 0.00 L34.60 0.00 L34.60 3.46 L24.22 13.84 L24.22 20.76 M41.52 0.00 L41.52 20.76 M51.90 6.92 L44.98 13.84 L51.90 20.76 M41.52 13.84 L44.98 13.84" fill="none" stroke="#969696" stroke-width="2.30" stroke-linecap="round" stroke-linejoin="round"/>
<path transform="matrix(0 -1 1 0 484.85 271.65)" d="M0.00 6.92 L6.92 0.00 L6.92 20.76 M0.00 20.76 L13.84 20.76 M20.76 0.00 L20.76 20.76 M31.14 6.92 L24.22 13.84 L31.14 20.76 M20.76 13.84 L24.22 13.84 M51.90 0.00 L38.06 0.00 L38.06 11.42 L41.52 8.30 L48.44 8.30 L51.90 11.76 L51.90 17.30 L48.44 20.76 L41.52 20.76 L38.06 17.30" fill="none" stroke="#969696" stroke-width="2.30" stroke-linecap="round" stroke-linejoin="round"/>
<path transform="matrix(0 -1 1 0 556.85 271.65)" d="M0.00 6.92 L6.92 0.00 L6.92 20.76 M0.00 20.76 L13.84 20.76 M20.76 0.00 L20.76 20.76 M31.14 6.92 L24.22 13.84 L31.14 20.76 M20.76 13.84 L24.22 13.84 M51.90 0.00 L38.06 0.00 L38.06 11.42 L41.52 8.30 L48.44 8.30 L51.90 11.76 L51.90 17.30 L48.44 20.76 L41.52 20.76 L38.06 17.30" fill="none" stroke="#969696" stroke-width="2.30" stroke-linecap="round" stroke-linejoin="round"/>
<path transform="matrix(0 -1 1 0 626.95 271.65)" d="M0.00 6.92 L6.92 0.00 L6.92 20.76 M0.00 20.76 L13.84 20.76 M20.76 0.00 L20.76 20.76 M31.14 6.92 L24.22 13.84 L31.14 20.76 M20.76 13.84 L24.22 13.84 M51.90 0.00 L38.06 0.00 L38.06 11.42 L41.52 8.30 L48.44 8.30 L51.90 11.76 L51.90 17.30 L48.44 20.76 L41.52 20.76 L38.06 17.30" fill="none" stroke="#969696" stroke-width="2.30" stroke-linecap="round" stroke-linejoin="round"/>
<path transform="matrix(0 -1 1 0 696.45 271.65)" d="M0.00 6.92 L6.92 0.00 L6.92 20.76 M0.00 20.76 L13.84 20.76 M20.76 0.00 L20.76 20.76 M31.14 6.92 L24.22 13.84 L31.14 20.76 M20.76 13.84 L24.22 13.84 M51.90 0.00 L38.06 0.00 L38.06 11.42 L41.52 8.30 L48.44 8.30 L51.90 11.76 L51.90 17.30 L48.44 20.76 L41.52 20.76 L38.06 17.30" fill="none" stroke="#969696" stroke-width="2.30" stroke-linecap="round" stroke-linejoin="round"/>
<path transform="matrix(0 -1 1 0 255.85 273.25)" d="M0.00 20.76 L0.00 0.00 L10.38 0.00 L13.84 3.46 L13.84 9.34 L10.38 12.80 L0.00 12.80 M7.61 12.80 L13.84 20.76 M34.60 0.00 L20.76 10.38 L20.76 17.30 L24.22 20.76 L31.14 20.76 L34.60 17.30 L34.60 13.84 L31.14 10.38 L20.76 10.38" fill="none" stroke="#969696" stroke-width="2.30" stroke-linecap="round" stroke-linejoin="round"/>
<path transform="matrix(0 -1 1 0 323.65 273.25)" d="M0.00 20.76 L0.00 0.00 L10.38 0.00 L13.84 3.46 L13.84 9.34 L10.38 12.80 L0.00 12.80 M7.61 12.80 L13.84 20.76 M34.60 0.00 L20.76 0.00 L20.76 11.42 L24.22 8.30 L31.14 8.30 L34.60 11.76 L34.60 17.30 L31.14 20.76 L24.22 20.76 L20.76 17.30" fill="none" stroke="#969696" stroke-width="2.30" stroke-linecap="round" stroke-linejoin="round"/>
<path transform="matrix(0 -1 1 0 394.55 275.45)" d="M0.00 20.76 L0.00 0.00 L10.38 0.00 L13.84 3.46 L13.84 9.34 L10.38 12.80 L0.00 12.80 M7.61 12.80 L13.84 20.76 M31.14 20.76 L31.14 0.00 L20.76 10.38 L34.60 10.38" fill="none" stroke="#969696" stroke-width="2.30" stroke-linecap="round" stroke-linejoin="round"/>
<path transform="matrix(0 -1 1 0 450.65 275.45)" d="M0.00 20.76 L0.00 0.00 L10.38 0.00 L13.84 3.46 L13.84 9.34 L10.38 12.80 L0.00 12.80 M7.61 12.80 L13.84 20.76 M20.76 6.92 L27.68 0.00 L27.68 20.76 M20.76 20.76 L34.60 20.76 M44.98 0.00 L51.90 0.00 L55.36 3.46 L55.36 17.30 L51.90 20.76 L44.98 20.76 L41.52 17.30 L41.52 3.46 L44.98 0.00 M41.52 17.30 L55.36 3.46" fill="none" stroke="#969696" stroke-width="2.30" stroke-linecap="round" stroke-linejoin="round"/>
<path transform="matrix(0 -1 1 0 522.65 275.45)" d="M0.00 20.76 L0.00 0.00 L10.38 0.00 L13.84 3.46 L13.84 9.34 L10.38 12.80 L0.00 12.80 M7.61 12.80 L13.84 20.76 M34.60 10.38 L24.22 10.38 L20.76 6.92 L20.76 3.46 L24.22 0.00 L31.14 0.00 L34.60 3.46 L34.60 17.30 L31.14 20.76 L24.22 20.76 L20.76 17.30" fill="none" stroke="#969696" stroke-width="2.30" stroke-linecap="round" stroke-linejoin="round"/>
<path transform="matrix(0 -1 1 0 592.75 275.45)" d="M0.00 20.76 L0.00 0.00 L10.38 0.00 L13.84 3.46 L13.84 9.34 L10.38 12.80 L0.00 12.80 M7.61 12.80 L13.84 20.76 M20.76 0.00 L34.60 0.00 L34.60 3.46 L24.22 13.84 L24.22 20.76" fill="none" stroke="#969696" stroke-width="2.30" stroke-linecap="round" stroke-linejoin="round"/>
<path transform="matrix(0 -1 1 0 662.25 275.45)" d="M0.00 20.76 L0.00 0.00 L10.38 0.00 L13.84 3.46 L13.84 9.34 L10.38 12.80 L0.00 12.80 M7.61 12.80 L13.84 20.76 M24.22 0.00 L31.14 0.00 L34.60 3.11 L34.60 6.92 L31.49 10.03 L23.87 10.03 L20.76 6.92 L20.76 3.11 L24.22 0.00 M23.87 10.03 L20.76 13.15 L20.76 17.65 L23.87 20.76 L31.49 20.76 L34.60 17.65 L34.60 13.15 L31.49 10.03" fill="none" stroke="#969696" stroke-width="2.30" stroke-linecap="round" stroke-linejoin="round"/>
<path transform="matrix(0 -1 1 0 255.85 283.65)" d="M0.00 20.76 L0.00 0.00 L10.38 0.00 L13.84 3.46 L13.84 9.34 L10.38 12.80 L0.00 12.80 M7.61 12.80 L13.84 20.76" fill="none" stroke="#969696" stroke-width="2.30" stroke-linecap="round" stroke-linejoin="round"/>
<rect x="786.00" y="185.40" width="77.60" height="41.20" rx="8.00" fill="none" stroke="#969696" stroke-width="2.4"/>
<rect x="779.20" y="198.70" width="7.20" height="14.60" rx="0.00" fill="#969696"/>
<rect x="863.40" y="198.70" width="7.20" height="14.60" rx="0.00" fill="#969696"/>
<rect x="816.30" y="190.00" width="5.40" height="32.00" rx="1.00" fill="#969696"/>
<rect x="827.90" y="190.00" width="5.40" height="32.00" rx="1.00" fill="#969696"/>
<line x1="800.80" y1="206.00" x2="848.80" y2="206.00" stroke="#969696" stroke-width="2.50" stroke-linecap="butt"/>
<line x1="812.80" y1="206.00" x2="836.80" y2="206.00" stroke="#dcdcdc" stroke-width="1.00" stroke-linecap="butt"/>
<line x1="824.80" y1="194.00" x2="824.80" y2="218.00" stroke="#dcdcdc" stroke-width="1.00" stroke-linecap="butt"/>
<circle cx="786.10" cy="194.30" r="1.30" fill="#b4b4b4"/>
<circle cx="786.10" cy="217.70" r="1.30" fill="#b4b4b4"/>
<circle cx="863.50" cy="194.30" r="1.30" fill="#b4b4b4"/>
<circle cx="863.50" cy="217.70" r="1.30" fill="#b4b4b4"/>
<rect x="786.20" y="251.00" width="77.60" height="41.20" rx="8.00" fill="none" stroke="#969696" stroke-width="2.4"/>
<rect x="779.40" y="264.30" width="7.20" height="14.60" rx="0.00" fill="#969696"/>
<rect x="863.60" y="264.30" width="7.20" height="14.60" rx="0.00" fill="#969696"/>
<rect x="816.50" y="255.60" width="5.40" height="32.00" rx="1.00" fill="#969696"/>
<rect x="828.10" y="255.60" width="5.40" height="32.00" rx="1.00" fill="#969696"/>
<line x1="801.00" y1="271.60" x2="849.00" y2="271.60" stroke="#969696" stroke-width="2.50" stroke-linecap="butt"/>
<line x1="813.00" y1="271.60" x2="837.00" y2="271.60" stroke="#dcdcdc" stroke-width="1.00" stroke-linecap="butt"/>
<line x1="825.00" y1="259.60" x2="825.00" y2="283.60" stroke="#dcdcdc" stroke-width="1.00" stroke-linecap="butt"/>
<circle cx="786.30" cy="259.90" r="1.30" fill="#b4b4b4"/>
<circle cx="786.30" cy="283.30" r="1.30" fill="#b4b4b4"/>
<circle cx="863.70" cy="259.90" r="1.30" fill="#b4b4b4"/>
<circle cx="863.70" cy="283.30" r="1.30" fill="#b4b4b4"/>
<path transform="translate(801.15 159.95)" d="M0.00 3.46 L3.46 0.00 L10.38 0.00 L13.84 3.46 L13.84 6.92 L0.00 19.03 L0.00 20.76 L13.84 20.76 M20.76 3.46 L24.22 0.00 L31.14 0.00 L34.60 3.46 L34.60 6.92 L20.76 19.03 L20.76 20.76 L34.60 20.76 M41.52 20.76 L41.52 6.92 L51.90 6.92 L55.36 10.38 L55.36 20.76" fill="none" stroke="#969696" stroke-width="2.30" stroke-linecap="round" stroke-linejoin="round"/>
<path transform="translate(801.15 226.15)" d="M0.00 3.46 L3.46 0.00 L10.38 0.00 L13.84 3.46 L13.84 6.92 L0.00 19.03 L0.00 20.76 L13.84 20.76 M20.76 3.46 L24.22 0.00 L31.14 0.00 L34.60 3.46 L34.60 6.92 L20.76 19.03 L20.76 20.76 L34.60 20.76 M41.52 20.76 L41.52 6.92 L51.90 6.92 L55.36 10.38 L55.36 20.76" fill="none" stroke="#969696" stroke-width="2.30" stroke-linecap="round" stroke-linejoin="round"/>
<path transform="translate(822.65 232.75)" d="M13.84 3.46 L10.38 0.00 L3.46 0.00 L0.00 3.46 L0.00 17.30 L3.46 20.76 L10.38 20.76 L13.84 17.30 M24.22 0.00 L31.14 0.00 L34.60 3.11 L34.60 6.92 L31.49 10.03 L23.87 10.03 L20.76 6.92 L20.76 3.11 L24.22 0.00 M23.87 10.03 L20.76 13.15 L20.76 17.65 L23.87 20.76 L31.49 20.76 L34.60 17.65 L34.60 13.15 L31.49 10.03" fill="none" stroke="#969696" stroke-width="2.30" stroke-linecap="round" stroke-linejoin="round"/>
<path transform="translate(822.65 299.15)" d="M13.84 3.46 L10.38 0.00 L3.46 0.00 L0.00 3.46 L0.00 17.30 L3.46 20.76 L10.38 20.76 L13.84 17.30 M20.76 0.00 L34.60 0.00 L34.60 3.46 L24.22 13.84 L24.22 20.76" fill="none" stroke="#969696" stroke-width="2.30" stroke-linecap="round" stroke-linejoin="round"/>
<rect x="305.2" y="346.8" width="82.8" height="37.6" rx="4" fill="none" stroke="#969696" stroke-width="2.2"/>
<rect x="372.00" y="347.80" width="10.00" height="35.80" rx="0.00" fill="#969696"/>
<line x1="278.40" y1="365.20" x2="305.20" y2="365.20" stroke="#969696" stroke-width="9.20" stroke-linecap="butt"/>
<circle cx="278.40" cy="365.20" r="4.60" fill="#969696" stroke="#969696" stroke-width="0.00"/>
<line x1="388.00" y1="365.20" x2="414.90" y2="365.20" stroke="#969696" stroke-width="9.20" stroke-linecap="butt"/>
<circle cx="414.90" cy="365.20" r="4.60" fill="#969696" stroke="#969696" stroke-width="0.00"/>
<path d="M328.20 352.60 L344.30 365.20 L328.20 377.80 L328.20 352.60" fill="none" stroke="#969696" stroke-width="2.00" stroke-linecap="round" stroke-linejoin="round"/>
<line x1="346.30" y1="352.60" x2="346.30" y2="377.80" stroke="#969696" stroke-width="2.00" stroke-linecap="butt"/>
<line x1="318.30" y1="365.20" x2="359.70" y2="365.20" stroke="#969696" stroke-width="2.00" stroke-linecap="butt"/>
<line x1="334.30" y1="365.20" x2="358.30" y2="365.20" stroke="#dcdcdc" stroke-width="1.00" stroke-linecap="butt"/>
<line x1="346.30" y1="353.20" x2="346.30" y2="377.20" stroke="#dcdcdc" stroke-width="1.00" stroke-linecap="butt"/>
<path transform="translate(263.10 318.50)" d="M0.00 6.92 L6.92 0.00 L6.92 20.76 M0.00 20.76 L13.84 20.76 M20.76 20.76 L20.76 0.00 L34.60 20.76 L34.60 0.00 M51.90 20.76 L51.90 0.00 L41.52 10.38 L55.36 10.38 M62.28 6.92 L69.20 0.00 L69.20 20.76 M62.28 20.76 L76.12 20.76 M93.42 20.76 L93.42 0.00 L83.04 10.38 L96.88 10.38 M107.26 0.00 L114.18 0.00 L117.64 3.11 L117.64 6.92 L114.53 10.03 L106.91 10.03 L103.80 6.92 L103.80 3.11 L107.26 0.00 M106.91 10.03 L103.80 13.15 L103.80 17.65 L106.91 20.76 L114.53 20.76 L117.64 17.65 L117.64 13.15 L114.53 10.03" fill="none" stroke="#969696" stroke-width="2.20" stroke-linecap="round" stroke-linejoin="round"/>
<path transform="translate(347.40 389.30)" d="M0.00 0.00 L10.38 0.00 L13.84 3.46 L13.84 17.30 L10.38 20.76 L0.00 20.76 L0.00 0.00 M20.76 0.00 L34.60 0.00 L34.60 3.46 L24.22 13.84 L24.22 20.76" fill="none" stroke="#969696" stroke-width="2.20" stroke-linecap="round" stroke-linejoin="round"/>
<rect x="618.2" y="348.2" width="186.7" height="79.6" rx="40" fill="none" stroke="#969696" stroke-width="5.6"/>
<rect x="626.4" y="357.8" width="169.4" height="60.0" rx="30" fill="none" stroke="#969696" stroke-width="2.2"/>
<line x1="699.40" y1="373.50" x2="699.40" y2="402.50" stroke="#969696" stroke-width="2.20" stroke-linecap="butt"/>
<line x1="723.30" y1="373.50" x2="723.30" y2="402.50" stroke="#969696" stroke-width="2.20" stroke-linecap="butt"/>
<rect x="707" y="376" width="7.2" height="26" fill="none" stroke="#969696" stroke-width="2"/>
<line x1="687.00" y1="388.30" x2="734.20" y2="388.30" stroke="#969696" stroke-width="2.00" stroke-linecap="butt"/>
<path d="M631.7 343.2 L791.3 343.2 L791.3 354.0 L802.8 354.0 L802.8 365.3 L813.6 365.3 L813.6 411.6 L802.8 411.6 L802.8 422.4 L791.3 422.4 L791.3 433.3 L631.7 433.3 L631.7 422.4 L619.0 422.4 L619.0 411.6 L608.2 411.6 L608.2 365.3 L619.0 365.3 L619.0 354.0 L631.7 354.0 Z" fill="url(#dots)" stroke="none"/>
<path d="M631.7 343.2 L791.3 343.2 L791.3 354.0 L802.8 354.0 L802.8 365.3 L813.6 365.3 L813.6 411.6 L802.8 411.6 L802.8 422.4 L791.3 422.4 L791.3 433.3 L631.7 433.3 L631.7 422.4 L619.0 422.4 L619.0 411.6 L608.2 411.6 L608.2 365.3 L619.0 365.3 L619.0 354.0 L631.7 354.0 Z" fill="none" stroke="#2c922c" stroke-width="1.2" style="mix-blend-mode:screen"/>
<path d="M631.7 343.2 L631.7 433.3 M791.3 343.2 L791.3 433.3" stroke="#2c922c" stroke-width="1.2" style="mix-blend-mode:screen"/>
<line x1="699.00" y1="388.30" x2="723.00" y2="388.30" stroke="#dcdcdc" stroke-width="1.00" stroke-linecap="butt"/>
<line x1="711.00" y1="376.30" x2="711.00" y2="400.30" stroke="#dcdcdc" stroke-width="1.00" stroke-linecap="butt"/>
<path transform="translate(621.10 319.10)" d="M3.46 0.00 L10.38 0.00 L13.84 3.46 L13.84 17.30 L10.38 20.76 L3.46 20.76 L0.00 17.30 L0.00 3.46 L3.46 0.00 M8.65 15.57 L13.84 20.76 M20.76 6.92 L27.68 0.00 L27.68 20.76 M20.76 20.76 L34.60 20.76" fill="none" stroke="#969696" stroke-width="2.20" stroke-linecap="round" stroke-linejoin="round"/>
<rect x="490.20" y="371.40" width="77.60" height="41.20" rx="8.00" fill="none" stroke="#969696" stroke-width="2.4"/>
<rect x="483.40" y="384.70" width="7.20" height="14.60" rx="0.00" fill="#969696"/>
<rect x="567.60" y="384.70" width="7.20" height="14.60" rx="0.00" fill="#969696"/>
<rect x="520.50" y="376.00" width="5.40" height="32.00" rx="1.00" fill="#969696"/>
<rect x="532.10" y="376.00" width="5.40" height="32.00" rx="1.00" fill="#969696"/>
<line x1="505.00" y1="392.00" x2="553.00" y2="392.00" stroke="#969696" stroke-width="2.50" stroke-linecap="butt"/>
<line x1="517.00" y1="392.00" x2="541.00" y2="392.00" stroke="#dcdcdc" stroke-width="1.00" stroke-linecap="butt"/>
<line x1="529.00" y1="380.00" x2="529.00" y2="404.00" stroke="#dcdcdc" stroke-width="1.00" stroke-linecap="butt"/>
<circle cx="490.30" cy="380.30" r="1.30" fill="#b4b4b4"/>
<circle cx="490.30" cy="403.70" r="1.30" fill="#b4b4b4"/>
<circle cx="567.70" cy="380.30" r="1.30" fill="#b4b4b4"/>
<circle cx="567.70" cy="403.70" r="1.30" fill="#b4b4b4"/>
<path transform="translate(491.15 346.15)" d="M13.84 3.46 L10.38 0.00 L3.46 0.00 L0.00 3.46 L0.00 17.30 L3.46 20.76 L10.38 20.76 L13.84 17.30 M20.76 3.46 L24.22 0.00 L31.14 0.00 L34.60 3.46 L34.60 6.92 L20.76 19.03 L20.76 20.76 L34.60 20.76" fill="none" stroke="#969696" stroke-width="2.30" stroke-linecap="round" stroke-linejoin="round"/>
<path transform="translate(491.15 418.95)" d="M0.00 3.46 L3.46 0.00 L10.38 0.00 L13.84 3.46 L13.84 6.92 L0.00 19.03 L0.00 20.76 L13.84 20.76 M20.76 3.46 L24.22 0.00 L31.14 0.00 L34.60 3.46 L34.60 6.92 L20.76 19.03 L20.76 20.76 L34.60 20.76 M41.52 27.68 L41.52 6.92 L51.90 6.92 L55.36 10.38 L55.36 17.30 L51.90 20.76 L41.52 20.76" fill="none" stroke="#969696" stroke-width="2.30" stroke-linecap="round" stroke-linejoin="round"/>
<rect x="854.40" y="367.20" width="77.60" height="41.20" rx="8.00" fill="none" stroke="#969696" stroke-width="2.4"/>
<rect x="847.60" y="380.50" width="7.20" height="14.60" rx="0.00" fill="#969696"/>
<rect x="931.80" y="380.50" width="7.20" height="14.60" rx="0.00" fill="#969696"/>
<rect x="884.70" y="371.80" width="5.40" height="32.00" rx="1.00" fill="#969696"/>
<rect x="896.30" y="371.80" width="5.40" height="32.00" rx="1.00" fill="#969696"/>
<line x1="869.20" y1="387.80" x2="917.20" y2="387.80" stroke="#969696" stroke-width="2.50" stroke-linecap="butt"/>
<line x1="881.20" y1="387.80" x2="905.20" y2="387.80" stroke="#dcdcdc" stroke-width="1.00" stroke-linecap="butt"/>
<line x1="893.20" y1="375.80" x2="893.20" y2="399.80" stroke="#dcdcdc" stroke-width="1.00" stroke-linecap="butt"/>
<circle cx="854.50" cy="376.10" r="1.30" fill="#b4b4b4"/>
<circle cx="854.50" cy="399.50" r="1.30" fill="#b4b4b4"/>
<circle cx="931.90" cy="376.10" r="1.30" fill="#b4b4b4"/>
<circle cx="931.90" cy="399.50" r="1.30" fill="#b4b4b4"/>
<path transform="translate(870.45 342.05)" d="M0.00 3.46 L3.46 0.00 L10.38 0.00 L13.84 3.46 L13.84 6.92 L0.00 19.03 L0.00 20.76 L13.84 20.76 M20.76 3.46 L24.22 0.00 L31.14 0.00 L34.60 3.46 L34.60 6.92 L20.76 19.03 L20.76 20.76 L34.60 20.76 M41.52 27.68 L41.52 6.92 L51.90 6.92 L55.36 10.38 L55.36 17.30 L51.90 20.76 L41.52 20.76" fill="none" stroke="#969696" stroke-width="2.30" stroke-linecap="round" stroke-linejoin="round"/>
<path transform="translate(891.35 415.65)" d="M13.84 3.46 L10.38 0.00 L3.46 0.00 L0.00 3.46 L0.00 17.30 L3.46 20.76 L10.38 20.76 L13.84 17.30 M20.76 6.92 L27.68 0.00 L27.68 20.76 M20.76 20.76 L34.60 20.76" fill="none" stroke="#969696" stroke-width="2.30" stroke-linecap="round" stroke-linejoin="round"/>
<rect x="422.20" y="458.40" width="77.60" height="41.20" rx="8.00" fill="none" stroke="#969696" stroke-width="2.4"/>
<rect x="415.40" y="471.70" width="7.20" height="14.60" rx="0.00" fill="#969696"/>
<rect x="499.60" y="471.70" width="7.20" height="14.60" rx="0.00" fill="#969696"/>
<rect x="452.50" y="463.00" width="5.40" height="32.00" rx="1.00" fill="#969696"/>
<rect x="464.10" y="463.00" width="5.40" height="32.00" rx="1.00" fill="#969696"/>
<line x1="437.00" y1="479.00" x2="485.00" y2="479.00" stroke="#969696" stroke-width="2.50" stroke-linecap="butt"/>
<line x1="449.00" y1="479.00" x2="473.00" y2="479.00" stroke="#dcdcdc" stroke-width="1.00" stroke-linecap="butt"/>
<line x1="461.00" y1="467.00" x2="461.00" y2="491.00" stroke="#dcdcdc" stroke-width="1.00" stroke-linecap="butt"/>
<circle cx="422.30" cy="467.30" r="1.30" fill="#b4b4b4"/>
<circle cx="422.30" cy="490.70" r="1.30" fill="#b4b4b4"/>
<circle cx="499.70" cy="467.30" r="1.30" fill="#b4b4b4"/>
<circle cx="499.70" cy="490.70" r="1.30" fill="#b4b4b4"/>
<rect x="553.60" y="458.40" width="77.60" height="41.20" rx="8.00" fill="none" stroke="#969696" stroke-width="2.4"/>
<rect x="546.80" y="471.70" width="7.20" height="14.60" rx="0.00" fill="#969696"/>
<rect x="631.00" y="471.70" width="7.20" height="14.60" rx="0.00" fill="#969696"/>
<rect x="583.90" y="463.00" width="5.40" height="32.00" rx="1.00" fill="#969696"/>
<rect x="595.50" y="463.00" width="5.40" height="32.00" rx="1.00" fill="#969696"/>
<line x1="568.40" y1="479.00" x2="616.40" y2="479.00" stroke="#969696" stroke-width="2.50" stroke-linecap="butt"/>
<line x1="580.40" y1="479.00" x2="604.40" y2="479.00" stroke="#dcdcdc" stroke-width="1.00" stroke-linecap="butt"/>
<line x1="592.40" y1="467.00" x2="592.40" y2="491.00" stroke="#dcdcdc" stroke-width="1.00" stroke-linecap="butt"/>
<circle cx="553.70" cy="467.30" r="1.30" fill="#b4b4b4"/>
<circle cx="553.70" cy="490.70" r="1.30" fill="#b4b4b4"/>
<circle cx="631.10" cy="467.30" r="1.30" fill="#b4b4b4"/>
<circle cx="631.10" cy="490.70" r="1.30" fill="#b4b4b4"/>
<path transform="translate(437.15 432.85)" d="M0.00 3.46 L3.46 0.00 L10.38 0.00 L13.84 3.46 L13.84 6.92 L0.00 19.03 L0.00 20.76 L13.84 20.76 M20.76 3.46 L24.22 0.00 L31.14 0.00 L34.60 3.46 L34.60 6.92 L20.76 19.03 L20.76 20.76 L34.60 20.76 M41.52 20.76 L41.52 6.92 L51.90 6.92 L55.36 10.38 L55.36 20.76" fill="none" stroke="#969696" stroke-width="2.30" stroke-linecap="round" stroke-linejoin="round"/>
<path transform="translate(569.15 432.85)" d="M0.00 3.46 L3.46 0.00 L10.38 0.00 L13.84 3.46 L13.84 6.92 L0.00 19.03 L0.00 20.76 L13.84 20.76 M20.76 3.46 L24.22 0.00 L31.14 0.00 L34.60 3.46 L34.60 6.92 L20.76 19.03 L20.76 20.76 L34.60 20.76 M41.52 20.76 L41.52 6.92 L51.90 6.92 L55.36 10.38 L55.36 20.76" fill="none" stroke="#969696" stroke-width="2.30" stroke-linecap="round" stroke-linejoin="round"/>
<path transform="translate(458.85 505.65)" d="M13.84 3.46 L10.38 0.00 L3.46 0.00 L0.00 3.46 L0.00 17.30 L3.46 20.76 L10.38 20.76 L13.84 17.30 M34.60 10.38 L24.22 10.38 L20.76 6.92 L20.76 3.46 L24.22 0.00 L31.14 0.00 L34.60 3.46 L34.60 17.30 L31.14 20.76 L24.22 20.76 L20.76 17.30" fill="none" stroke="#969696" stroke-width="2.30" stroke-linecap="round" stroke-linejoin="round"/>
<path transform="translate(569.15 505.65)" d="M13.84 3.46 L10.38 0.00 L3.46 0.00 L0.00 3.46 L0.00 17.30 L3.46 20.76 L10.38 20.76 L13.84 17.30 M20.76 6.92 L27.68 0.00 L27.68 20.76 M20.76 20.76 L34.60 20.76 M44.98 0.00 L51.90 0.00 L55.36 3.46 L55.36 17.30 L51.90 20.76 L44.98 20.76 L41.52 17.30 L41.52 3.46 L44.98 0.00 M41.52 17.30 L55.36 3.46" fill="none" stroke="#969696" stroke-width="2.30" stroke-linecap="round" stroke-linejoin="round"/>
<path d="M132.30 546.60 L141.30 537.60 L173.30 537.60 L173.30 533.30 L201.90 533.30 L201.90 537.60 L233.70 537.60 L242.70 546.60 L242.70 637.80 L233.70 646.80 L202.70 646.80 L202.70 651.80 L172.30 651.80 L172.30 646.80 L141.30 646.80 L132.30 637.80 Z" fill="none" stroke="#969696" stroke-width="2.40" stroke-linecap="round" stroke-linejoin="round"/>
<circle cx="148.90" cy="553.80" r="9.40" fill="none" stroke="#969696" stroke-width="2.50"/>
<circle cx="224.00" cy="553.80" r="9.40" fill="none" stroke="#969696" stroke-width="2.50"/>
<circle cx="148.60" cy="630.70" r="9.40" fill="none" stroke="#969696" stroke-width="2.50"/>
<circle cx="226.00" cy="630.70" r="9.40" fill="none" stroke="#969696" stroke-width="2.50"/>
<circle cx="187.50" cy="592.30" r="33.00" fill="none" stroke="#969696" stroke-width="2.40"/>
<rect x="164.80" y="570.10" width="45.7" height="45" fill="none" stroke="#9a9a9a" stroke-width="1"/>
<line x1="146.20" y1="569.00" x2="146.20" y2="616.30" stroke="#969696" stroke-width="2.40" stroke-linecap="butt"/>
<line x1="226.40" y1="569.00" x2="226.40" y2="616.30" stroke="#969696" stroke-width="2.40" stroke-linecap="butt"/>
<rect x="134.20" y="570.10" width="3.2" height="46" fill="none" stroke="#969696" stroke-width="1.1"/>
<rect x="237.70" y="572.10" width="3.6" height="44" fill="none" stroke="#969696" stroke-width="1.1"/>
<circle cx="187.50" cy="592.30" r="11.30" fill="none" stroke="#a0a0a0" stroke-width="1.00"/>
<circle cx="187.50" cy="592.30" r="4.30" fill="none" stroke="#969696" stroke-width="2.80"/>
<line x1="171.50" y1="592.30" x2="203.50" y2="592.30" stroke="#dcdcdc" stroke-width="1.00" stroke-linecap="butt"/>
<line x1="187.50" y1="576.30" x2="187.50" y2="608.30" stroke="#dcdcdc" stroke-width="1.00" stroke-linecap="butt"/>
<circle cx="169.40" cy="537.60" r="1.30" fill="#b4b4b4"/>
<circle cx="205.20" cy="537.60" r="1.30" fill="#b4b4b4"/>
<circle cx="169.50" cy="646.80" r="1.30" fill="#b4b4b4"/>
<circle cx="205.50" cy="646.80" r="1.30" fill="#b4b4b4"/>
<circle cx="132.30" cy="554.30" r="1.30" fill="#b4b4b4"/>
<circle cx="242.70" cy="554.30" r="1.30" fill="#b4b4b4"/>
<circle cx="132.30" cy="631.20" r="1.30" fill="#b4b4b4"/>
<circle cx="242.70" cy="631.20" r="1.30" fill="#b4b4b4"/>
<path d="M163.50 635.30 L179.50 635.30 L195.50 630.30" fill="none" stroke="#969696" stroke-width="2.20" stroke-linecap="round" stroke-linejoin="round"/>
<line x1="196.00" y1="635.30" x2="211.00" y2="635.30" stroke="#969696" stroke-width="2.20" stroke-linecap="round"/>
<path transform="matrix(0 -1 1 0 138.35 527.85)" d="M0.00 3.46 L3.46 0.00 L10.38 0.00 L13.84 3.46 L13.84 6.92 L0.00 19.03 L0.00 20.76 L13.84 20.76" fill="none" stroke="#969696" stroke-width="2.30" stroke-linecap="round" stroke-linejoin="round"/>
<path transform="matrix(0 -1 1 0 216.15 527.85)" d="M10.38 20.76 L10.38 0.00 L0.00 10.38 L13.84 10.38" fill="none" stroke="#969696" stroke-width="2.30" stroke-linecap="round" stroke-linejoin="round"/>
<path transform="matrix(0 -1 1 0 136.45 669.05)" d="M0.00 6.92 L6.92 0.00 L6.92 20.76 M0.00 20.76 L13.84 20.76" fill="none" stroke="#969696" stroke-width="2.30" stroke-linecap="round" stroke-linejoin="round"/>
<path transform="matrix(0 -1 1 0 216.75 673.95)" d="M0.00 3.46 L3.46 0.00 L10.38 0.00 L13.84 3.46 L13.84 6.92 L10.38 10.38 L13.84 13.84 L13.84 17.30 L10.38 20.76 L3.46 20.76 L0.00 17.30 M5.19 10.38 L10.38 10.38" fill="none" stroke="#969696" stroke-width="2.30" stroke-linecap="round" stroke-linejoin="round"/>
<path transform="matrix(0 -1 1 0 99.50 646.80)" d="M14.00 3.50 L10.50 0.00 L3.50 0.00 L0.00 3.50 L0.00 7.00 L3.50 10.50 L10.50 10.50 L14.00 14.00 L14.00 17.50 L10.50 21.00 L3.50 21.00 L0.00 17.50 M35.00 0.00 L21.00 0.00 L21.00 11.55 L24.50 8.40 L31.50 8.40 L35.00 11.90 L35.00 17.50 L31.50 21.00 L24.50 21.00 L21.00 17.50" fill="none" stroke="#969696" stroke-width="2.20" stroke-linecap="round" stroke-linejoin="round"/>
<path d="M269.40 546.60 L278.40 537.60 L310.40 537.60 L310.40 533.30 L339.00 533.30 L339.00 537.60 L370.80 537.60 L379.80 546.60 L379.80 637.80 L370.80 646.80 L339.80 646.80 L339.80 651.80 L309.40 651.80 L309.40 646.80 L278.40 646.80 L269.40 637.80 Z" fill="none" stroke="#969696" stroke-width="2.40" stroke-linecap="round" stroke-linejoin="round"/>
<circle cx="286.00" cy="553.80" r="9.40" fill="none" stroke="#969696" stroke-width="2.50"/>
<circle cx="361.10" cy="553.80" r="9.40" fill="none" stroke="#969696" stroke-width="2.50"/>
<circle cx="285.70" cy="630.70" r="9.40" fill="none" stroke="#969696" stroke-width="2.50"/>
<circle cx="363.10" cy="630.70" r="9.40" fill="none" stroke="#969696" stroke-width="2.50"/>
<circle cx="324.60" cy="592.30" r="33.00" fill="none" stroke="#969696" stroke-width="2.40"/>
<rect x="301.90" y="570.10" width="45.7" height="45" fill="none" stroke="#9a9a9a" stroke-width="1"/>
<line x1="283.30" y1="569.00" x2="283.30" y2="616.30" stroke="#969696" stroke-width="2.40" stroke-linecap="butt"/>
<line x1="363.50" y1="569.00" x2="363.50" y2="616.30" stroke="#969696" stroke-width="2.40" stroke-linecap="butt"/>
<rect x="271.30" y="570.10" width="3.2" height="46" fill="none" stroke="#969696" stroke-width="1.1"/>
<rect x="374.80" y="572.10" width="3.6" height="44" fill="none" stroke="#969696" stroke-width="1.1"/>
<circle cx="324.60" cy="592.30" r="11.30" fill="none" stroke="#a0a0a0" stroke-width="1.00"/>
<circle cx="324.60" cy="592.30" r="4.30" fill="none" stroke="#969696" stroke-width="2.80"/>
<line x1="308.60" y1="592.30" x2="340.60" y2="592.30" stroke="#dcdcdc" stroke-width="1.00" stroke-linecap="butt"/>
<line x1="324.60" y1="576.30" x2="324.60" y2="608.30" stroke="#dcdcdc" stroke-width="1.00" stroke-linecap="butt"/>
<circle cx="306.50" cy="537.60" r="1.30" fill="#b4b4b4"/>
<circle cx="342.30" cy="537.60" r="1.30" fill="#b4b4b4"/>
<circle cx="306.60" cy="646.80" r="1.30" fill="#b4b4b4"/>
<circle cx="342.60" cy="646.80" r="1.30" fill="#b4b4b4"/>
<circle cx="269.40" cy="554.30" r="1.30" fill="#b4b4b4"/>
<circle cx="379.80" cy="554.30" r="1.30" fill="#b4b4b4"/>
<circle cx="269.40" cy="631.20" r="1.30" fill="#b4b4b4"/>
<circle cx="379.80" cy="631.20" r="1.30" fill="#b4b4b4"/>
<path d="M300.60 635.30 L316.60 635.30 L332.60 630.30" fill="none" stroke="#969696" stroke-width="2.20" stroke-linecap="round" stroke-linejoin="round"/>
<line x1="333.10" y1="635.30" x2="348.10" y2="635.30" stroke="#969696" stroke-width="2.20" stroke-linecap="round"/>
<path transform="matrix(0 -1 1 0 275.45 527.85)" d="M0.00 3.46 L3.46 0.00 L10.38 0.00 L13.84 3.46 L13.84 6.92 L0.00 19.03 L0.00 20.76 L13.84 20.76" fill="none" stroke="#969696" stroke-width="2.30" stroke-linecap="round" stroke-linejoin="round"/>
<path transform="matrix(0 -1 1 0 353.25 527.85)" d="M10.38 20.76 L10.38 0.00 L0.00 10.38 L13.84 10.38" fill="none" stroke="#969696" stroke-width="2.30" stroke-linecap="round" stroke-linejoin="round"/>
<path transform="matrix(0 -1 1 0 273.55 669.05)" d="M0.00 6.92 L6.92 0.00 L6.92 20.76 M0.00 20.76 L13.84 20.76" fill="none" stroke="#969696" stroke-width="2.30" stroke-linecap="round" stroke-linejoin="round"/>
<path transform="matrix(0 -1 1 0 353.85 673.95)" d="M0.00 3.46 L3.46 0.00 L10.38 0.00 L13.84 3.46 L13.84 6.92 L10.38 10.38 L13.84 13.84 L13.84 17.30 L10.38 20.76 L3.46 20.76 L0.00 17.30 M5.19 10.38 L10.38 10.38" fill="none" stroke="#969696" stroke-width="2.30" stroke-linecap="round" stroke-linejoin="round"/>
<path transform="matrix(0 -1 1 0 236.60 646.80)" d="M14.00 3.50 L10.50 0.00 L3.50 0.00 L0.00 3.50 L0.00 7.00 L3.50 10.50 L10.50 10.50 L14.00 14.00 L14.00 17.50 L10.50 21.00 L3.50 21.00 L0.00 17.50 M31.50 21.00 L31.50 0.00 L21.00 10.50 L35.00 10.50" fill="none" stroke="#969696" stroke-width="2.20" stroke-linecap="round" stroke-linejoin="round"/>
<path d="M405.60 546.60 L414.60 537.60 L446.60 537.60 L446.60 533.30 L475.20 533.30 L475.20 537.60 L507.00 537.60 L516.00 546.60 L516.00 637.80 L507.00 646.80 L476.00 646.80 L476.00 651.80 L445.60 651.80 L445.60 646.80 L414.60 646.80 L405.60 637.80 Z" fill="none" stroke="#969696" stroke-width="2.40" stroke-linecap="round" stroke-linejoin="round"/>
<circle cx="422.20" cy="553.80" r="9.40" fill="none" stroke="#969696" stroke-width="2.50"/>
<circle cx="497.30" cy="553.80" r="9.40" fill="none" stroke="#969696" stroke-width="2.50"/>
<circle cx="421.90" cy="630.70" r="9.40" fill="none" stroke="#969696" stroke-width="2.50"/>
<circle cx="499.30" cy="630.70" r="9.40" fill="none" stroke="#969696" stroke-width="2.50"/>
<circle cx="460.80" cy="592.30" r="33.00" fill="none" stroke="#969696" stroke-width="2.40"/>
<rect x="438.10" y="570.10" width="45.7" height="45" fill="none" stroke="#9a9a9a" stroke-width="1"/>
<line x1="419.50" y1="569.00" x2="419.50" y2="616.30" stroke="#969696" stroke-width="2.40" stroke-linecap="butt"/>
<line x1="499.70" y1="569.00" x2="499.70" y2="616.30" stroke="#969696" stroke-width="2.40" stroke-linecap="butt"/>
<rect x="407.50" y="570.10" width="3.2" height="46" fill="none" stroke="#969696" stroke-width="1.1"/>
<rect x="511.00" y="572.10" width="3.6" height="44" fill="none" stroke="#969696" stroke-width="1.1"/>
<circle cx="460.80" cy="592.30" r="11.30" fill="none" stroke="#a0a0a0" stroke-width="1.00"/>
<circle cx="460.80" cy="592.30" r="4.30" fill="none" stroke="#969696" stroke-width="2.80"/>
<line x1="444.80" y1="592.30" x2="476.80" y2="592.30" stroke="#dcdcdc" stroke-width="1.00" stroke-linecap="butt"/>
<line x1="460.80" y1="576.30" x2="460.80" y2="608.30" stroke="#dcdcdc" stroke-width="1.00" stroke-linecap="butt"/>
<circle cx="442.70" cy="537.60" r="1.30" fill="#b4b4b4"/>
<circle cx="478.50" cy="537.60" r="1.30" fill="#b4b4b4"/>
<circle cx="442.80" cy="646.80" r="1.30" fill="#b4b4b4"/>
<circle cx="478.80" cy="646.80" r="1.30" fill="#b4b4b4"/>
<circle cx="405.60" cy="554.30" r="1.30" fill="#b4b4b4"/>
<circle cx="516.00" cy="554.30" r="1.30" fill="#b4b4b4"/>
<circle cx="405.60" cy="631.20" r="1.30" fill="#b4b4b4"/>
<circle cx="516.00" cy="631.20" r="1.30" fill="#b4b4b4"/>
<path d="M436.80 635.30 L452.80 635.30 L468.80 630.30" fill="none" stroke="#969696" stroke-width="2.20" stroke-linecap="round" stroke-linejoin="round"/>
<line x1="469.30" y1="635.30" x2="484.30" y2="635.30" stroke="#969696" stroke-width="2.20" stroke-linecap="round"/>
<path transform="matrix(0 -1 1 0 411.65 527.85)" d="M0.00 3.46 L3.46 0.00 L10.38 0.00 L13.84 3.46 L13.84 6.92 L0.00 19.03 L0.00 20.76 L13.84 20.76" fill="none" stroke="#969696" stroke-width="2.30" stroke-linecap="round" stroke-linejoin="round"/>
<path transform="matrix(0 -1 1 0 489.45 527.85)" d="M10.38 20.76 L10.38 0.00 L0.00 10.38 L13.84 10.38" fill="none" stroke="#969696" stroke-width="2.30" stroke-linecap="round" stroke-linejoin="round"/>
<path transform="matrix(0 -1 1 0 409.75 669.05)" d="M0.00 6.92 L6.92 0.00 L6.92 20.76 M0.00 20.76 L13.84 20.76" fill="none" stroke="#969696" stroke-width="2.30" stroke-linecap="round" stroke-linejoin="round"/>
<path transform="matrix(0 -1 1 0 490.05 673.95)" d="M0.00 3.46 L3.46 0.00 L10.38 0.00 L13.84 3.46 L13.84 6.92 L10.38 10.38 L13.84 13.84 L13.84 17.30 L10.38 20.76 L3.46 20.76 L0.00 17.30 M5.19 10.38 L10.38 10.38" fill="none" stroke="#969696" stroke-width="2.30" stroke-linecap="round" stroke-linejoin="round"/>
<path transform="matrix(0 -1 1 0 372.80 646.80)" d="M14.00 3.50 L10.50 0.00 L3.50 0.00 L0.00 3.50 L0.00 7.00 L3.50 10.50 L10.50 10.50 L14.00 14.00 L14.00 17.50 L10.50 21.00 L3.50 21.00 L0.00 17.50 M21.00 3.50 L24.50 0.00 L31.50 0.00 L35.00 3.50 L35.00 7.00 L31.50 10.50 L35.00 14.00 L35.00 17.50 L31.50 21.00 L24.50 21.00 L21.00 17.50 M26.25 10.50 L31.50 10.50" fill="none" stroke="#969696" stroke-width="2.20" stroke-linecap="round" stroke-linejoin="round"/>
<path d="M542.20 546.60 L551.20 537.60 L583.20 537.60 L583.20 533.30 L611.80 533.30 L611.80 537.60 L643.60 537.60 L652.60 546.60 L652.60 637.80 L643.60 646.80 L612.60 646.80 L612.60 651.80 L582.20 651.80 L582.20 646.80 L551.20 646.80 L542.20 637.80 Z" fill="none" stroke="#969696" stroke-width="2.40" stroke-linecap="round" stroke-linejoin="round"/>
<circle cx="558.80" cy="553.80" r="9.40" fill="none" stroke="#969696" stroke-width="2.50"/>
<circle cx="633.90" cy="553.80" r="9.40" fill="none" stroke="#969696" stroke-width="2.50"/>
<circle cx="558.50" cy="630.70" r="9.40" fill="none" stroke="#969696" stroke-width="2.50"/>
<circle cx="635.90" cy="630.70" r="9.40" fill="none" stroke="#969696" stroke-width="2.50"/>
<circle cx="597.40" cy="592.30" r="33.00" fill="none" stroke="#969696" stroke-width="2.40"/>
<rect x="574.70" y="570.10" width="45.7" height="45" fill="none" stroke="#9a9a9a" stroke-width="1"/>
<line x1="556.10" y1="569.00" x2="556.10" y2="616.30" stroke="#969696" stroke-width="2.40" stroke-linecap="butt"/>
<line x1="636.30" y1="569.00" x2="636.30" y2="616.30" stroke="#969696" stroke-width="2.40" stroke-linecap="butt"/>
<rect x="544.10" y="570.10" width="3.2" height="46" fill="none" stroke="#969696" stroke-width="1.1"/>
<rect x="647.60" y="572.10" width="3.6" height="44" fill="none" stroke="#969696" stroke-width="1.1"/>
<circle cx="597.40" cy="592.30" r="11.30" fill="none" stroke="#a0a0a0" stroke-width="1.00"/>
<circle cx="597.40" cy="592.30" r="4.30" fill="none" stroke="#969696" stroke-width="2.80"/>
<line x1="581.40" y1="592.30" x2="613.40" y2="592.30" stroke="#dcdcdc" stroke-width="1.00" stroke-linecap="butt"/>
<line x1="597.40" y1="576.30" x2="597.40" y2="608.30" stroke="#dcdcdc" stroke-width="1.00" stroke-linecap="butt"/>
<circle cx="579.30" cy="537.60" r="1.30" fill="#b4b4b4"/>
<circle cx="615.10" cy="537.60" r="1.30" fill="#b4b4b4"/>
<circle cx="579.40" cy="646.80" r="1.30" fill="#b4b4b4"/>
<circle cx="615.40" cy="646.80" r="1.30" fill="#b4b4b4"/>
<circle cx="542.20" cy="554.30" r="1.30" fill="#b4b4b4"/>
<circle cx="652.60" cy="554.30" r="1.30" fill="#b4b4b4"/>
<circle cx="542.20" cy="631.20" r="1.30" fill="#b4b4b4"/>
<circle cx="652.60" cy="631.20" r="1.30" fill="#b4b4b4"/>
<path d="M573.40 635.30 L589.40 635.30 L605.40 630.30" fill="none" stroke="#969696" stroke-width="2.20" stroke-linecap="round" stroke-linejoin="round"/>
<line x1="605.90" y1="635.30" x2="620.90" y2="635.30" stroke="#969696" stroke-width="2.20" stroke-linecap="round"/>
<path transform="matrix(0 -1 1 0 548.25 527.85)" d="M0.00 3.46 L3.46 0.00 L10.38 0.00 L13.84 3.46 L13.84 6.92 L0.00 19.03 L0.00 20.76 L13.84 20.76" fill="none" stroke="#969696" stroke-width="2.30" stroke-linecap="round" stroke-linejoin="round"/>
<path transform="matrix(0 -1 1 0 626.05 527.85)" d="M10.38 20.76 L10.38 0.00 L0.00 10.38 L13.84 10.38" fill="none" stroke="#969696" stroke-width="2.30" stroke-linecap="round" stroke-linejoin="round"/>
<path transform="matrix(0 -1 1 0 546.35 669.05)" d="M0.00 6.92 L6.92 0.00 L6.92 20.76 M0.00 20.76 L13.84 20.76" fill="none" stroke="#969696" stroke-width="2.30" stroke-linecap="round" stroke-linejoin="round"/>
<path transform="matrix(0 -1 1 0 626.65 673.95)" d="M0.00 3.46 L3.46 0.00 L10.38 0.00 L13.84 3.46 L13.84 6.92 L10.38 10.38 L13.84 13.84 L13.84 17.30 L10.38 20.76 L3.46 20.76 L0.00 17.30 M5.19 10.38 L10.38 10.38" fill="none" stroke="#969696" stroke-width="2.30" stroke-linecap="round" stroke-linejoin="round"/>
<path transform="matrix(0 -1 1 0 509.40 646.80)" d="M14.00 3.50 L10.50 0.00 L3.50 0.00 L0.00 3.50 L0.00 7.00 L3.50 10.50 L10.50 10.50 L14.00 14.00 L14.00 17.50 L10.50 21.00 L3.50 21.00 L0.00 17.50 M21.00 3.50 L24.50 0.00 L31.50 0.00 L35.00 3.50 L35.00 7.00 L21.00 19.25 L21.00 21.00 L35.00 21.00" fill="none" stroke="#969696" stroke-width="2.20" stroke-linecap="round" stroke-linejoin="round"/>
<rect x="697.2" y="513" width="210.7" height="114" fill="none" stroke="#969696" stroke-width="4"/>
<rect x="726.50" y="499.40" width="14.00" height="13.00" rx="0.00" fill="#969696"/>
<rect x="726.50" y="627.00" width="14.00" height="13.00" rx="0.00" fill="#969696"/>
<rect x="772.50" y="499.40" width="14.00" height="13.00" rx="0.00" fill="#969696"/>
<rect x="772.50" y="627.00" width="14.00" height="13.00" rx="0.00" fill="#969696"/>
<rect x="817.30" y="499.40" width="14.00" height="13.00" rx="0.00" fill="#969696"/>
<rect x="817.30" y="627.00" width="14.00" height="13.00" rx="0.00" fill="#969696"/>
<rect x="863.30" y="499.40" width="14.00" height="13.00" rx="0.00" fill="#969696"/>
<rect x="863.30" y="627.00" width="14.00" height="13.00" rx="0.00" fill="#969696"/>
<rect x="720.70" y="545.40" width="26.10" height="48.80" rx="2.50" fill="#969696"/>
<rect x="725.30" y="550.20" width="17.00" height="21.80" rx="0.00" fill="#000"/>
<rect x="725.30" y="577.40" width="17.00" height="8.80" rx="0.00" fill="#000"/>
<rect x="766.30" y="545.40" width="26.10" height="48.80" rx="2.50" fill="#969696"/>
<rect x="770.90" y="550.20" width="17.00" height="21.80" rx="0.00" fill="#000"/>
<rect x="770.90" y="577.40" width="17.00" height="8.80" rx="0.00" fill="#000"/>
<rect x="811.00" y="545.40" width="26.10" height="48.80" rx="2.50" fill="#969696"/>
<rect x="815.60" y="550.20" width="17.00" height="21.80" rx="0.00" fill="#000"/>
<rect x="815.60" y="577.40" width="17.00" height="8.80" rx="0.00" fill="#000"/>
<rect x="857.00" y="545.40" width="26.10" height="48.80" rx="2.50" fill="#969696"/>
<rect x="861.60" y="550.20" width="17.00" height="21.80" rx="0.00" fill="#000"/>
<rect x="861.60" y="577.40" width="17.00" height="8.80" rx="0.00" fill="#000"/>
<circle cx="720.20" cy="513.00" r="1.80" fill="#bcbcbc"/>
<circle cx="720.20" cy="627.00" r="1.80" fill="#bcbcbc"/>
<circle cx="747.40" cy="513.00" r="1.80" fill="#bcbcbc"/>
<circle cx="747.40" cy="627.00" r="1.80" fill="#bcbcbc"/>
<circle cx="765.60" cy="513.00" r="1.80" fill="#bcbcbc"/>
<circle cx="765.60" cy="627.00" r="1.80" fill="#bcbcbc"/>
<circle cx="793.40" cy="513.00" r="1.80" fill="#bcbcbc"/>
<circle cx="793.40" cy="627.00" r="1.80" fill="#bcbcbc"/>
<circle cx="811.00" cy="513.00" r="1.80" fill="#bcbcbc"/>
<circle cx="811.00" cy="627.00" r="1.80" fill="#bcbcbc"/>
<circle cx="838.20" cy="513.00" r="1.80" fill="#bcbcbc"/>
<circle cx="838.20" cy="627.00" r="1.80" fill="#bcbcbc"/>
<circle cx="856.20" cy="513.00" r="1.80" fill="#bcbcbc"/>
<circle cx="856.20" cy="627.00" r="1.80" fill="#bcbcbc"/>
<circle cx="884.20" cy="513.00" r="1.80" fill="#bcbcbc"/>
<circle cx="884.20" cy="627.00" r="1.80" fill="#bcbcbc"/>
<path transform="translate(705.10 522.50)" d="M2.85 0.00 L8.55 0.00 L11.40 2.85 L11.40 14.25 L8.55 17.10 L2.85 17.10 L0.00 14.25 L0.00 2.85 L2.85 0.00 M17.10 17.10 L17.10 0.00 L28.50 17.10 L28.50 0.00" fill="none" stroke="#969696" stroke-width="2.20" stroke-linecap="round" stroke-linejoin="round"/>
<path transform="translate(728.00 602.00)" d="M0.00 4.90 L4.90 0.00 L4.90 14.70 M0.00 14.70 L9.80 14.70" fill="none" stroke="#969696" stroke-width="2.20" stroke-linecap="round" stroke-linejoin="round"/>
<path transform="translate(774.00 602.00)" d="M0.00 2.45 L2.45 0.00 L7.35 0.00 L9.80 2.45 L9.80 4.90 L0.00 13.48 L0.00 14.70 L9.80 14.70" fill="none" stroke="#969696" stroke-width="2.20" stroke-linecap="round" stroke-linejoin="round"/>
<path transform="translate(819.00 602.00)" d="M0.00 2.45 L2.45 0.00 L7.35 0.00 L9.80 2.45 L9.80 4.90 L7.35 7.35 L9.80 9.80 L9.80 12.25 L7.35 14.70 L2.45 14.70 L0.00 12.25 M3.68 7.35 L7.35 7.35" fill="none" stroke="#969696" stroke-width="2.20" stroke-linecap="round" stroke-linejoin="round"/>
<path transform="translate(865.00 602.00)" d="M7.35 14.70 L7.35 0.00 L0.00 7.35 L9.80 7.35" fill="none" stroke="#969696" stroke-width="2.20" stroke-linecap="round" stroke-linejoin="round"/>
<path transform="matrix(0 -1 1 0 669.45 624.95)" d="M14.40 3.60 L10.80 0.00 L3.60 0.00 L0.00 3.60 L0.00 7.20 L3.60 10.80 L10.80 10.80 L14.40 14.40 L14.40 18.00 L10.80 21.60 L3.60 21.60 L0.00 18.00 M21.60 7.20 L28.80 0.00 L28.80 21.60 M21.60 21.60 L36.00 21.60" fill="none" stroke="#969696" stroke-width="2.10" stroke-linecap="round" stroke-linejoin="round"/>
<line x1="784.20" y1="570.10" x2="820.20" y2="570.10" stroke="#dcdcdc" stroke-width="1.00" stroke-linecap="butt"/>
<line x1="802.20" y1="552.10" x2="802.20" y2="588.10" stroke="#dcdcdc" stroke-width="1.00" stroke-linecap="butt"/>
<path d="M1013.5 32.3 L1052 32.3 A11.7 11.7 0 0 0 1075.4 32.3 L1113.5 32.3 L1113.5 697.4 L1013.5 697.4 Z" fill="none" stroke="#969696" stroke-width="2.40" stroke-linecap="butt" stroke-linejoin="round"/>
<path transform="matrix(0 -1 1 0 1052.80 284.20)" d="M0.00 29.40 L0.00 0.00 L9.80 14.70 L19.60 0.00 L19.60 29.40 M49.00 0.00 L29.40 0.00 L29.40 29.40 L49.00 29.40 M29.40 14.70 L44.10 14.70 M78.40 5.88 L72.52 0.00 L63.70 0.00 L58.80 4.90 L58.80 24.50 L63.70 29.40 L73.50 29.40 L78.40 24.50 L78.40 14.70 L67.13 14.70 M88.20 29.40 L88.20 9.80 L98.00 0.00 L107.80 9.80 L107.80 29.40 M88.20 14.70 L107.80 14.70 M122.50 0.00 L132.30 0.00 L137.20 4.41 L137.20 9.80 L132.79 14.21 L122.01 14.21 L117.60 9.80 L117.60 4.41 L122.50 0.00 M122.01 14.21 L117.60 18.62 L117.60 24.99 L122.01 29.40 L132.79 29.40 L137.20 24.99 L137.20 18.62 L132.79 14.21 M147.00 14.70 L166.60 14.70 M176.40 29.40 L176.40 0.00 L191.10 0.00 L196.00 4.90 L196.00 14.70 L191.10 19.60 L176.40 19.60" fill="none" stroke="#969696" stroke-width="2.60" stroke-linecap="round" stroke-linejoin="round"/>
<path transform="translate(1018.10 -10.70)" d="M0.00 0.00 L0.00 24.75 L4.95 29.70 L14.85 29.70 L19.80 24.75 L19.80 0.00 M29.70 9.90 L39.60 0.00 L39.60 29.70 M29.70 29.70 L49.50 29.70" fill="none" stroke="#969696" stroke-width="2.60" stroke-linecap="round" stroke-linejoin="round"/>
<line x1="1045.50" y1="365.40" x2="1081.50" y2="365.40" stroke="#dcdcdc" stroke-width="1.00" stroke-linecap="butt"/>
<line x1="1063.50" y1="347.40" x2="1063.50" y2="383.40" stroke="#dcdcdc" stroke-width="1.00" stroke-linecap="butt"/>
<path d="M1303.00 0.00 L1303.00 157.50 L1574.00 157.50 L1574.00 0.00" fill="none" stroke="#969696" stroke-width="3.00" stroke-linecap="butt" stroke-linejoin="round"/>
<path d="M1322.9 136.8 L1322.9 20 Q1322.9 16 1327 16 L1553.7 16 L1553.7 136.8 Z" fill="none" stroke="#969696" stroke-width="3"/>
<path d="M1398.50 0.00 L1398.50 23.00 L1478.00 23.00 L1478.00 0.00" fill="none" stroke="#969696" stroke-width="3.00" stroke-linecap="butt" stroke-linejoin="round"/>
<path d="M1471.70 27.00 L1497.30 27.00" fill="none" stroke="#969696" stroke-width="3.20" stroke-linecap="butt" stroke-linejoin="round"/>
<rect x="1387.70" y="48.80" width="11.20" height="11.20" rx="0.00" fill="#969696"/>
<rect x="1387.70" y="93.40" width="11.20" height="11.20" rx="0.00" fill="#969696"/>
<rect x="1433.70" y="48.80" width="11.20" height="11.20" rx="0.00" fill="#969696"/>
<rect x="1433.70" y="93.40" width="11.20" height="11.20" rx="0.00" fill="#969696"/>
<rect x="1478.90" y="48.80" width="11.20" height="11.20" rx="0.00" fill="#969696"/>
<rect x="1478.90" y="93.40" width="11.20" height="11.20" rx="0.00" fill="#969696"/>
<line x1="1422.30" y1="77.50" x2="1456.30" y2="77.50" stroke="#dcdcdc" stroke-width="1.00" stroke-linecap="butt"/>
<line x1="1439.30" y1="60.50" x2="1439.30" y2="94.50" stroke="#dcdcdc" stroke-width="1.00" stroke-linecap="butt"/>
<path transform="matrix(0 -1 1 0 1289.70 44.10)" d="M0.00 6.00 L1.20 7.20 L2.40 7.20 L3.60 6.00 L3.60 0.00 M2.40 0.00 L4.80 0.00 M7.20 7.20 L7.20 0.00 L10.80 0.00 L12.00 1.20 L12.00 3.60 L10.80 4.80 L7.20 4.80 M14.40 2.40 L16.80 0.00 L16.80 7.20 M14.40 7.20 L19.20 7.20" fill="none" stroke="#969696" stroke-width="1.00" stroke-linecap="round" stroke-linejoin="round"/>
<path d="M1779.50 122.50 L1598.30 122.50 L1553.80 168.30 L1454.50 168.30 L1454.50 585.20 L1779.50 585.20" fill="none" stroke="#969696" stroke-width="2.80" stroke-linecap="butt" stroke-linejoin="round"/>
<circle cx="1500.60" cy="188.50" r="18.20" fill="none" stroke="#c8c8c8" stroke-width="1.00"/>
<line x1="1482.40" y1="188.50" x2="1500.60" y2="188.50" stroke="#c8c8c8" stroke-width="1.00" stroke-linecap="butt"/>
<line x1="1500.60" y1="188.50" x2="1518.70" y2="169.50" stroke="#c8c8c8" stroke-width="1.00" stroke-linecap="butt"/>
<line x1="1500.60" y1="188.50" x2="1518.70" y2="206.90" stroke="#c8c8c8" stroke-width="1.00" stroke-linecap="butt"/>
<line x1="1518.70" y1="169.50" x2="1518.70" y2="206.90" stroke="#c8c8c8" stroke-width="1.00" stroke-linecap="butt"/>
<circle cx="1500.60" cy="565.50" r="13.40" fill="none" stroke="#c8c8c8" stroke-width="1.00"/>
<line x1="1482.20" y1="547.00" x2="1519.00" y2="584.00" stroke="#c8c8c8" stroke-width="1.00" stroke-linecap="butt"/>
<line x1="1482.20" y1="584.00" x2="1519.00" y2="547.00" stroke="#c8c8c8" stroke-width="1.00" stroke-linecap="butt"/>
<line x1="1482.20" y1="565.50" x2="1519.00" y2="565.50" stroke="#c8c8c8" stroke-width="1.00" stroke-linecap="butt"/>
<path transform="matrix(0 -1 -1 0 1639.20 492.50)" d="M0.00 22.80 L0.00 0.00 L11.40 0.00 L15.20 3.80 L15.20 10.26 L11.40 14.06 L0.00 14.06 M8.36 14.06 L15.20 22.80 M22.99 15.20 L38.19 15.20 L38.19 11.40 L34.39 7.60 L26.79 7.60 L22.99 11.40 L22.99 19.00 L26.79 22.80 L38.19 22.80 M49.78 0.00 L49.78 19.00 L53.58 22.80 L57.38 22.80 M45.98 7.60 L57.38 7.60 M65.17 22.80 L65.17 7.60 M65.17 13.30 L70.87 7.60 L76.57 7.60 M88.16 7.60 L95.76 7.60 L99.56 11.40 L99.56 19.00 L95.76 22.80 L88.16 22.80 L84.36 19.00 L84.36 11.40 L88.16 7.60 M107.35 22.80 L107.35 0.00 L114.95 11.40 L122.55 0.00 L122.55 22.80 M132.24 7.60 L141.74 7.60 L145.54 11.40 L145.54 22.80 L134.14 22.80 L130.34 19.00 L130.34 17.10 L134.14 15.20 L145.54 15.20 M153.33 0.00 L153.33 22.80 M164.73 7.60 L157.13 15.20 L164.73 22.80 M153.33 15.20 L157.13 15.20 M172.52 15.20 L187.72 15.20 L187.72 11.40 L183.92 7.60 L176.32 7.60 L172.52 11.40 L172.52 19.00 L176.32 22.80 L187.72 22.80 M195.51 22.80 L195.51 7.60 M195.51 13.30 L201.21 7.60 L206.91 7.60 M229.90 7.60 L218.50 7.60 L214.70 11.40 L218.50 15.20 L226.10 15.20 L229.90 19.00 L226.10 22.80 L214.70 22.80 M237.69 19.76 L241.11 19.76 L241.11 22.80 L237.69 22.80 L237.69 19.76 M264.48 3.80 L260.68 0.00 L253.08 0.00 L249.28 3.80 L249.28 19.00 L253.08 22.80 L260.68 22.80 L264.48 19.00 M272.27 0.00 L279.87 0.00 M276.07 0.00 L276.07 22.80 M272.27 22.80 L279.87 22.80" fill="none" stroke="#3fa6ad" stroke-width="1.80" stroke-linecap="round" stroke-linejoin="round"/>
<path transform="matrix(0 -1 -1 0 1696.70 500.10)" d="M15.60 23.40 L3.90 9.75 L3.90 3.90 L7.80 0.00 L11.70 3.90 L11.70 7.80 L0.00 15.60 L0.00 19.50 L3.90 23.40 L7.80 23.40 L15.60 15.60 M62.40 3.90 L58.50 0.00 L50.70 0.00 L46.80 3.90 L46.80 7.80 L50.70 11.70 L58.50 11.70 L62.40 15.60 L62.40 19.50 L58.50 23.40 L50.70 23.40 L46.80 19.50 M70.20 31.20 L70.20 7.80 L81.90 7.80 L85.80 11.70 L85.80 19.50 L81.90 23.40 L70.20 23.40 M95.55 7.80 L105.30 7.80 L109.20 11.70 L109.20 23.40 L97.50 23.40 L93.60 19.50 L93.60 17.55 L97.50 15.60 L109.20 15.60 M132.60 7.80 L120.90 7.80 L117.00 11.70 L117.00 19.50 L120.90 23.40 L132.60 23.40 M140.40 15.60 L156.00 15.60 L156.00 11.70 L152.10 7.80 L144.30 7.80 L140.40 11.70 L140.40 19.50 L144.30 23.40 L156.00 23.40" fill="none" stroke="#3fa6ad" stroke-width="1.80" stroke-linecap="round" stroke-linejoin="round"/>
<path transform="matrix(0 -1 -1 0 1696.70 333.50)" d="M0.00 0.00 L7.80 0.00 M3.90 0.00 L3.90 23.40 M0.00 23.40 L7.80 23.40 M15.60 23.40 L15.60 7.80 L27.30 7.80 L31.20 11.70 L31.20 23.40 M39.00 7.80 L46.80 23.40 L54.60 7.80 M64.35 7.80 L74.10 7.80 L78.00 11.70 L78.00 23.40 L66.30 23.40 L62.40 19.50 L62.40 17.55 L66.30 15.60 L78.00 15.60 M101.40 0.00 L101.40 23.40 L89.70 23.40 L85.80 19.50 L85.80 11.70 L89.70 7.80 L101.40 7.80 M109.20 15.60 L124.80 15.60 L124.80 11.70 L120.90 7.80 L113.10 7.80 L109.20 11.70 L109.20 19.50 L113.10 23.40 L124.80 23.40 M132.60 23.40 L132.60 7.80 M132.60 13.65 L138.45 7.80 L144.30 7.80" fill="none" stroke="#3fa6ad" stroke-width="1.80" stroke-linecap="round" stroke-linejoin="round"/>
<path transform="matrix(0 -1 -1 0 1735.10 496.10)" d="M0.00 23.40 L0.00 0.00 L7.80 11.70 L15.60 0.00 L15.60 23.40 M27.30 7.80 L35.10 7.80 L39.00 11.70 L39.00 19.50 L35.10 23.40 L27.30 23.40 L23.40 19.50 L23.40 11.70 L27.30 7.80 M62.40 0.00 L62.40 23.40 L50.70 23.40 L46.80 19.50 L46.80 11.70 L50.70 7.80 L62.40 7.80 M93.60 0.00 L93.60 23.40 L105.30 23.40 L109.20 19.50 L109.20 11.70 L105.30 7.80 L93.60 7.80 M117.00 7.80 L117.00 19.50 L120.90 23.40 L132.60 23.40 M132.60 7.80 L132.60 27.30 L128.70 31.20 L117.00 31.20 M163.80 23.40 L163.80 0.00 L175.50 0.00 L179.40 3.90 L179.40 10.53 L175.50 14.43 L163.80 14.43 M172.38 14.43 L179.40 23.40 M187.20 15.60 L202.80 15.60 L202.80 11.70 L198.90 7.80 L191.10 7.80 L187.20 11.70 L187.20 19.50 L191.10 23.40 L202.80 23.40 M210.60 23.40 L210.60 7.80 L222.30 7.80 L226.20 11.70 L226.20 23.40 M235.56 7.80 L237.90 7.80 L237.90 23.40 M234.00 23.40 L241.80 23.40 M237.90 1.17 L237.90 3.12 M249.60 7.80 L265.20 23.40 M249.60 23.40 L265.20 7.80" fill="none" stroke="#3fa6ad" stroke-width="1.80" stroke-linecap="round" stroke-linejoin="round"/>
<line x1="1633.50" y1="205.00" x2="1649.50" y2="205.00" stroke="#3fa6ad" stroke-width="1.20" stroke-linecap="butt"/>
<line x1="1641.50" y1="197.00" x2="1641.50" y2="213.00" stroke="#3fa6ad" stroke-width="1.20" stroke-linecap="butt"/>
<line x1="1661.50" y1="497.50" x2="1681.50" y2="497.50" stroke="#6fb5b5" stroke-width="1.00" stroke-linecap="butt"/>
<line x1="1671.50" y1="487.50" x2="1671.50" y2="507.50" stroke="#6fb5b5" stroke-width="1.00" stroke-linecap="butt"/>
<line x1="1648.00" y1="365.00" x2="1684.00" y2="365.00" stroke="#c8c8c8" stroke-width="1.00" stroke-linecap="butt"/>
<line x1="1666.00" y1="347.00" x2="1666.00" y2="383.00" stroke="#c8c8c8" stroke-width="1.00" stroke-linecap="butt"/>
<path d="M1205.50 68.50 L1241.50 68.50 L1244.00 71.00 L1244.00 79.50 L1241.50 81.50 L1241.50 169.50 L1244.00 171.50 L1244.00 180.00 L1241.50 182.50 L1205.50 182.50 L1203.00 180.00 L1203.00 171.50 L1205.50 169.50 L1205.50 81.50 L1203.00 79.50 L1203.00 71.00 Z" fill="none" stroke="#969696" stroke-width="2.40" stroke-linecap="round" stroke-linejoin="round"/>
<path d="M1218.10 68.50 L1218.10 56.90 L1221.30 53.40 L1225.70 53.40 L1228.90 56.90 L1228.90 68.50 Z" fill="#969696" stroke="#969696" stroke-width="0.01" stroke-linecap="round" stroke-linejoin="round"/>
<path d="M1218.10 182.50 L1218.10 196.00 L1221.30 199.50 L1225.70 199.50 L1228.90 196.00 L1228.90 182.50 Z" fill="#969696" stroke="#969696" stroke-width="0.01" stroke-linecap="round" stroke-linejoin="round"/>
<line x1="1216.50" y1="125.50" x2="1230.50" y2="125.50" stroke="#dcdcdc" stroke-width="1.00" stroke-linecap="butt"/>
<line x1="1223.50" y1="118.50" x2="1223.50" y2="132.50" stroke="#dcdcdc" stroke-width="1.00" stroke-linecap="butt"/>
<circle cx="1207.20" cy="68.50" r="1.30" fill="#b4b4b4"/>
<circle cx="1207.20" cy="182.50" r="1.30" fill="#b4b4b4"/>
<circle cx="1239.80" cy="68.50" r="1.30" fill="#b4b4b4"/>
<circle cx="1239.80" cy="182.50" r="1.30" fill="#b4b4b4"/>
<path d="M1251.30 68.50 L1287.30 68.50 L1289.80 71.00 L1289.80 79.50 L1287.30 81.50 L1287.30 169.50 L1289.80 171.50 L1289.80 180.00 L1287.30 182.50 L1251.30 182.50 L1248.80 180.00 L1248.80 171.50 L1251.30 169.50 L1251.30 81.50 L1248.80 79.50 L1248.80 71.00 Z" fill="none" stroke="#969696" stroke-width="2.40" stroke-linecap="round" stroke-linejoin="round"/>
<path d="M1263.90 68.50 L1263.90 56.90 L1267.10 53.40 L1271.50 53.40 L1274.70 56.90 L1274.70 68.50 Z" fill="#969696" stroke="#969696" stroke-width="0.01" stroke-linecap="round" stroke-linejoin="round"/>
<path d="M1263.90 182.50 L1263.90 196.00 L1267.10 199.50 L1271.50 199.50 L1274.70 196.00 L1274.70 182.50 Z" fill="#969696" stroke="#969696" stroke-width="0.01" stroke-linecap="round" stroke-linejoin="round"/>
<line x1="1262.30" y1="125.50" x2="1276.30" y2="125.50" stroke="#dcdcdc" stroke-width="1.00" stroke-linecap="butt"/>
<line x1="1269.30" y1="118.50" x2="1269.30" y2="132.50" stroke="#dcdcdc" stroke-width="1.00" stroke-linecap="butt"/>
<circle cx="1253.00" cy="68.50" r="1.30" fill="#b4b4b4"/>
<circle cx="1253.00" cy="182.50" r="1.30" fill="#b4b4b4"/>
<circle cx="1285.60" cy="68.50" r="1.30" fill="#b4b4b4"/>
<circle cx="1285.60" cy="182.50" r="1.30" fill="#b4b4b4"/>
<path d="M1304.50 68.50 L1340.50 68.50 L1343.00 71.00 L1343.00 79.50 L1340.50 81.50 L1340.50 169.50 L1343.00 171.50 L1343.00 180.00 L1340.50 182.50 L1304.50 182.50 L1302.00 180.00 L1302.00 171.50 L1304.50 169.50 L1304.50 81.50 L1302.00 79.50 L1302.00 71.00 Z" fill="none" stroke="#969696" stroke-width="2.40" stroke-linecap="round" stroke-linejoin="round"/>
<path d="M1317.10 68.50 L1317.10 56.90 L1320.30 53.40 L1324.70 53.40 L1327.90 56.90 L1327.90 68.50 Z" fill="#969696" stroke="#969696" stroke-width="0.01" stroke-linecap="round" stroke-linejoin="round"/>
<path d="M1317.10 182.50 L1317.10 196.00 L1320.30 199.50 L1324.70 199.50 L1327.90 196.00 L1327.90 182.50 Z" fill="#969696" stroke="#969696" stroke-width="0.01" stroke-linecap="round" stroke-linejoin="round"/>
<line x1="1315.50" y1="125.50" x2="1329.50" y2="125.50" stroke="#dcdcdc" stroke-width="1.00" stroke-linecap="butt"/>
<line x1="1322.50" y1="118.50" x2="1322.50" y2="132.50" stroke="#dcdcdc" stroke-width="1.00" stroke-linecap="butt"/>
<circle cx="1306.20" cy="68.50" r="1.30" fill="#b4b4b4"/>
<circle cx="1306.20" cy="182.50" r="1.30" fill="#b4b4b4"/>
<circle cx="1338.80" cy="68.50" r="1.30" fill="#b4b4b4"/>
<circle cx="1338.80" cy="182.50" r="1.30" fill="#b4b4b4"/>
<path transform="matrix(0 -1 1 0 1213.65 143.85)" d="M0.00 3.46 L3.46 0.00 L10.38 0.00 L13.84 3.46 L13.84 6.92 L10.38 10.38 L13.84 13.84 L13.84 17.30 L10.38 20.76 L3.46 20.76 L0.00 17.30 M5.19 10.38 L10.38 10.38 M20.76 0.00 L20.76 20.76 M31.14 6.92 L24.22 13.84 L31.14 20.76 M20.76 13.84 L24.22 13.84 M38.06 3.46 L41.52 0.00 L48.44 0.00 L51.90 3.46 L51.90 6.92 L48.44 10.38 L51.90 13.84 L51.90 17.30 L48.44 20.76 L41.52 20.76 L38.06 17.30 M43.25 10.38 L48.44 10.38" fill="none" stroke="#969696" stroke-width="2.30" stroke-linecap="round" stroke-linejoin="round"/>
<path transform="matrix(0 -1 1 0 1259.65 143.85)" d="M0.00 3.46 L3.46 0.00 L10.38 0.00 L13.84 3.46 L13.84 6.92 L10.38 10.38 L13.84 13.84 L13.84 17.30 L10.38 20.76 L3.46 20.76 L0.00 17.30 M5.19 10.38 L10.38 10.38 M20.76 0.00 L20.76 20.76 M31.14 6.92 L24.22 13.84 L31.14 20.76 M20.76 13.84 L24.22 13.84 M38.06 3.46 L41.52 0.00 L48.44 0.00 L51.90 3.46 L51.90 6.92 L48.44 10.38 L51.90 13.84 L51.90 17.30 L48.44 20.76 L41.52 20.76 L38.06 17.30 M43.25 10.38 L48.44 10.38" fill="none" stroke="#969696" stroke-width="2.30" stroke-linecap="round" stroke-linejoin="round"/>
<path transform="matrix(0 -1 1 0 1312.65 143.85)" d="M0.00 3.46 L3.46 0.00 L10.38 0.00 L13.84 3.46 L13.84 6.92 L10.38 10.38 L13.84 13.84 L13.84 17.30 L10.38 20.76 L3.46 20.76 L0.00 17.30 M5.19 10.38 L10.38 10.38 M20.76 0.00 L20.76 20.76 M31.14 6.92 L24.22 13.84 L31.14 20.76 M20.76 13.84 L24.22 13.84 M38.06 3.46 L41.52 0.00 L48.44 0.00 L51.90 3.46 L51.90 6.92 L48.44 10.38 L51.90 13.84 L51.90 17.30 L48.44 20.76 L41.52 20.76 L38.06 17.30 M43.25 10.38 L48.44 10.38" fill="none" stroke="#969696" stroke-width="2.30" stroke-linecap="round" stroke-linejoin="round"/>
<path transform="matrix(0 -1 1 0 1249.65 143.85)" d="M0.00 20.76 L0.00 0.00 L10.38 0.00 L13.84 3.46 L13.84 9.34 L10.38 12.80 L0.00 12.80 M7.61 12.80 L13.84 20.76 M20.76 6.92 L27.68 0.00 L27.68 20.76 M20.76 20.76 L34.60 20.76 M41.52 3.46 L44.98 0.00 L51.90 0.00 L55.36 3.46 L55.36 6.92 L41.52 19.03 L41.52 20.76 L55.36 20.76" fill="none" stroke="#969696" stroke-width="2.30" stroke-linecap="round" stroke-linejoin="round"/>
<path transform="matrix(0 -1 1 0 1296.15 142.85)" d="M0.00 20.76 L0.00 0.00 L10.38 0.00 L13.84 3.46 L13.84 9.34 L10.38 12.80 L0.00 12.80 M7.61 12.80 L13.84 20.76 M20.76 6.92 L27.68 0.00 L27.68 20.76 M20.76 20.76 L34.60 20.76 M51.90 20.76 L51.90 0.00 L41.52 10.38 L55.36 10.38" fill="none" stroke="#969696" stroke-width="2.30" stroke-linecap="round" stroke-linejoin="round"/>
<path transform="matrix(0 -1 1 0 1349.55 142.35)" d="M0.00 20.76 L0.00 0.00 L10.38 0.00 L13.84 3.46 L13.84 9.34 L10.38 12.80 L0.00 12.80 M7.61 12.80 L13.84 20.76 M20.76 6.92 L27.68 0.00 L27.68 20.76 M20.76 20.76 L34.60 20.76 M41.52 3.46 L44.98 0.00 L51.90 0.00 L55.36 3.46 L55.36 6.92 L51.90 10.38 L55.36 13.84 L55.36 17.30 L51.90 20.76 L44.98 20.76 L41.52 17.30 M46.71 10.38 L51.90 10.38" fill="none" stroke="#969696" stroke-width="2.30" stroke-linecap="round" stroke-linejoin="round"/>
<path d="M1205.50 263.20 L1241.50 263.20 L1244.00 265.70 L1244.00 274.20 L1241.50 276.20 L1241.50 364.00 L1244.00 366.00 L1244.00 374.50 L1241.50 377.00 L1205.50 377.00 L1203.00 374.50 L1203.00 366.00 L1205.50 364.00 L1205.50 276.20 L1203.00 274.20 L1203.00 265.70 Z" fill="none" stroke="#969696" stroke-width="2.40" stroke-linecap="round" stroke-linejoin="round"/>
<path d="M1218.10 263.20 L1218.10 250.10 L1221.30 246.60 L1225.70 246.60 L1228.90 250.10 L1228.90 263.20 Z" fill="#969696" stroke="#969696" stroke-width="0.01" stroke-linecap="round" stroke-linejoin="round"/>
<path d="M1218.10 377.00 L1218.10 390.00 L1221.30 393.50 L1225.70 393.50 L1228.90 390.00 L1228.90 377.00 Z" fill="#969696" stroke="#969696" stroke-width="0.01" stroke-linecap="round" stroke-linejoin="round"/>
<line x1="1216.50" y1="320.10" x2="1230.50" y2="320.10" stroke="#dcdcdc" stroke-width="1.00" stroke-linecap="butt"/>
<line x1="1223.50" y1="313.10" x2="1223.50" y2="327.10" stroke="#dcdcdc" stroke-width="1.00" stroke-linecap="butt"/>
<circle cx="1207.20" cy="263.20" r="1.30" fill="#b4b4b4"/>
<circle cx="1207.20" cy="377.00" r="1.30" fill="#b4b4b4"/>
<circle cx="1239.80" cy="263.20" r="1.30" fill="#b4b4b4"/>
<circle cx="1239.80" cy="377.00" r="1.30" fill="#b4b4b4"/>
<path d="M1251.50 263.20 L1287.50 263.20 L1290.00 265.70 L1290.00 274.20 L1287.50 276.20 L1287.50 364.00 L1290.00 366.00 L1290.00 374.50 L1287.50 377.00 L1251.50 377.00 L1249.00 374.50 L1249.00 366.00 L1251.50 364.00 L1251.50 276.20 L1249.00 274.20 L1249.00 265.70 Z" fill="none" stroke="#969696" stroke-width="2.40" stroke-linecap="round" stroke-linejoin="round"/>
<path d="M1264.10 263.20 L1264.10 250.10 L1267.30 246.60 L1271.70 246.60 L1274.90 250.10 L1274.90 263.20 Z" fill="#969696" stroke="#969696" stroke-width="0.01" stroke-linecap="round" stroke-linejoin="round"/>
<path d="M1264.10 377.00 L1264.10 390.00 L1267.30 393.50 L1271.70 393.50 L1274.90 390.00 L1274.90 377.00 Z" fill="#969696" stroke="#969696" stroke-width="0.01" stroke-linecap="round" stroke-linejoin="round"/>
<line x1="1262.50" y1="320.10" x2="1276.50" y2="320.10" stroke="#dcdcdc" stroke-width="1.00" stroke-linecap="butt"/>
<line x1="1269.50" y1="313.10" x2="1269.50" y2="327.10" stroke="#dcdcdc" stroke-width="1.00" stroke-linecap="butt"/>
<circle cx="1253.20" cy="263.20" r="1.30" fill="#b4b4b4"/>
<circle cx="1253.20" cy="377.00" r="1.30" fill="#b4b4b4"/>
<circle cx="1285.80" cy="263.20" r="1.30" fill="#b4b4b4"/>
<circle cx="1285.80" cy="377.00" r="1.30" fill="#b4b4b4"/>
<path d="M1305.00 263.20 L1341.00 263.20 L1343.50 265.70 L1343.50 274.20 L1341.00 276.20 L1341.00 364.00 L1343.50 366.00 L1343.50 374.50 L1341.00 377.00 L1305.00 377.00 L1302.50 374.50 L1302.50 366.00 L1305.00 364.00 L1305.00 276.20 L1302.50 274.20 L1302.50 265.70 Z" fill="none" stroke="#969696" stroke-width="2.40" stroke-linecap="round" stroke-linejoin="round"/>
<path d="M1317.60 263.20 L1317.60 250.10 L1320.80 246.60 L1325.20 246.60 L1328.40 250.10 L1328.40 263.20 Z" fill="#969696" stroke="#969696" stroke-width="0.01" stroke-linecap="round" stroke-linejoin="round"/>
<path d="M1317.60 377.00 L1317.60 390.00 L1320.80 393.50 L1325.20 393.50 L1328.40 390.00 L1328.40 377.00 Z" fill="#969696" stroke="#969696" stroke-width="0.01" stroke-linecap="round" stroke-linejoin="round"/>
<line x1="1316.00" y1="320.10" x2="1330.00" y2="320.10" stroke="#dcdcdc" stroke-width="1.00" stroke-linecap="butt"/>
<line x1="1323.00" y1="313.10" x2="1323.00" y2="327.10" stroke="#dcdcdc" stroke-width="1.00" stroke-linecap="butt"/>
<circle cx="1306.70" cy="263.20" r="1.30" fill="#b4b4b4"/>
<circle cx="1306.70" cy="377.00" r="1.30" fill="#b4b4b4"/>
<circle cx="1339.30" cy="263.20" r="1.30" fill="#b4b4b4"/>
<circle cx="1339.30" cy="377.00" r="1.30" fill="#b4b4b4"/>
<path transform="matrix(0 -1 1 0 1211.65 360.35)" d="M0.00 6.92 L6.92 0.00 L6.92 20.76 M0.00 20.76 L13.84 20.76 M20.76 0.00 L20.76 20.76 M31.14 6.92 L24.22 13.84 L31.14 20.76 M20.76 13.84 L24.22 13.84 M41.52 0.00 L48.44 0.00 L51.90 3.11 L51.90 6.92 L48.79 10.03 L41.17 10.03 L38.06 6.92 L38.06 3.11 L41.52 0.00 M41.17 10.03 L38.06 13.15 L38.06 17.65 L41.17 20.76 L48.79 20.76 L51.90 17.65 L51.90 13.15 L48.79 10.03" fill="none" stroke="#969696" stroke-width="2.30" stroke-linecap="round" stroke-linejoin="round"/>
<path transform="matrix(0 -1 1 0 1257.65 360.35)" d="M0.00 6.92 L6.92 0.00 L6.92 20.76 M0.00 20.76 L13.84 20.76 M20.76 0.00 L20.76 20.76 M31.14 6.92 L24.22 13.84 L31.14 20.76 M20.76 13.84 L24.22 13.84 M41.52 0.00 L48.44 0.00 L51.90 3.11 L51.90 6.92 L48.79 10.03 L41.17 10.03 L38.06 6.92 L38.06 3.11 L41.52 0.00 M41.17 10.03 L38.06 13.15 L38.06 17.65 L41.17 20.76 L48.79 20.76 L51.90 17.65 L51.90 13.15 L48.79 10.03" fill="none" stroke="#969696" stroke-width="2.30" stroke-linecap="round" stroke-linejoin="round"/>
<path transform="matrix(0 -1 1 0 1311.65 360.35)" d="M0.00 6.92 L6.92 0.00 L6.92 20.76 M0.00 20.76 L13.84 20.76 M20.76 0.00 L20.76 20.76 M31.14 6.92 L24.22 13.84 L31.14 20.76 M20.76 13.84 L24.22 13.84 M41.52 0.00 L48.44 0.00 L51.90 3.11 L51.90 6.92 L48.79 10.03 L41.17 10.03 L38.06 6.92 L38.06 3.11 L41.52 0.00 M41.17 10.03 L38.06 13.15 L38.06 17.65 L41.17 20.76 L48.79 20.76 L51.90 17.65 L51.90 13.15 L48.79 10.03" fill="none" stroke="#969696" stroke-width="2.30" stroke-linecap="round" stroke-linejoin="round"/>
<path transform="matrix(0 -1 1 0 1177.15 365.15)" d="M0.00 20.76 L0.00 0.00 L10.38 0.00 L13.84 3.46 L13.84 9.34 L10.38 12.80 L0.00 12.80 M7.61 12.80 L13.84 20.76 M20.76 3.46 L24.22 0.00 L31.14 0.00 L34.60 3.46 L34.60 6.92 L20.76 19.03 L20.76 20.76 L34.60 20.76" fill="none" stroke="#969696" stroke-width="2.30" stroke-linecap="round" stroke-linejoin="round"/>
<path transform="matrix(0 -1 1 0 1222.15 365.85)" d="M0.00 20.76 L0.00 0.00 L10.38 0.00 L13.84 3.46 L13.84 9.34 L10.38 12.80 L0.00 12.80 M7.61 12.80 L13.84 20.76 M20.76 6.92 L27.68 0.00 L27.68 20.76 M20.76 20.76 L34.60 20.76" fill="none" stroke="#969696" stroke-width="2.30" stroke-linecap="round" stroke-linejoin="round"/>
<path transform="matrix(0 -1 1 0 1275.65 365.85)" d="M0.00 20.76 L0.00 0.00 L10.38 0.00 L13.84 3.46 L13.84 9.34 L10.38 12.80 L0.00 12.80 M7.61 12.80 L13.84 20.76 M20.76 3.46 L24.22 0.00 L31.14 0.00 L34.60 3.46 L34.60 6.92 L31.14 10.38 L34.60 13.84 L34.60 17.30 L31.14 20.76 L24.22 20.76 L20.76 17.30 M25.95 10.38 L31.14 10.38" fill="none" stroke="#969696" stroke-width="2.30" stroke-linecap="round" stroke-linejoin="round"/>
<rect x="1194.60" y="433.40" width="77.60" height="41.20" rx="8.00" fill="none" stroke="#969696" stroke-width="2.4"/>
<rect x="1187.80" y="446.70" width="7.20" height="14.60" rx="0.00" fill="#969696"/>
<rect x="1272.00" y="446.70" width="7.20" height="14.60" rx="0.00" fill="#969696"/>
<rect x="1224.90" y="438.00" width="5.40" height="32.00" rx="1.00" fill="#969696"/>
<rect x="1236.50" y="438.00" width="5.40" height="32.00" rx="1.00" fill="#969696"/>
<line x1="1209.40" y1="454.00" x2="1257.40" y2="454.00" stroke="#969696" stroke-width="2.50" stroke-linecap="butt"/>
<line x1="1221.40" y1="454.00" x2="1245.40" y2="454.00" stroke="#dcdcdc" stroke-width="1.00" stroke-linecap="butt"/>
<line x1="1233.40" y1="442.00" x2="1233.40" y2="466.00" stroke="#dcdcdc" stroke-width="1.00" stroke-linecap="butt"/>
<circle cx="1194.70" cy="442.30" r="1.30" fill="#b4b4b4"/>
<circle cx="1194.70" cy="465.70" r="1.30" fill="#b4b4b4"/>
<circle cx="1272.10" cy="442.30" r="1.30" fill="#b4b4b4"/>
<circle cx="1272.10" cy="465.70" r="1.30" fill="#b4b4b4"/>
<path transform="translate(1194.55 408.95)" d="M13.84 3.46 L10.38 0.00 L3.46 0.00 L0.00 3.46 L0.00 17.30 L3.46 20.76 L10.38 20.76 L13.84 17.30 M34.60 0.00 L20.76 10.38 L20.76 17.30 L24.22 20.76 L31.14 20.76 L34.60 17.30 L34.60 13.84 L31.14 10.38 L20.76 10.38" fill="none" stroke="#969696" stroke-width="2.30" stroke-linecap="round" stroke-linejoin="round"/>
<path transform="translate(1194.55 481.15)" d="M0.00 6.92 L6.92 0.00 L6.92 20.76 M0.00 20.76 L13.84 20.76 M20.76 6.92 L20.76 17.30 L24.22 20.76 L31.14 20.76 L34.60 17.30 M34.60 6.92 L34.60 20.76" fill="none" stroke="#969696" stroke-width="2.30" stroke-linecap="round" stroke-linejoin="round"/>
<rect x="1199.20" y="529.00" width="77.60" height="41.20" rx="8.00" fill="none" stroke="#969696" stroke-width="2.4"/>
<rect x="1192.40" y="542.30" width="7.20" height="14.60" rx="0.00" fill="#969696"/>
<rect x="1276.60" y="542.30" width="7.20" height="14.60" rx="0.00" fill="#969696"/>
<rect x="1229.50" y="533.60" width="5.40" height="32.00" rx="1.00" fill="#969696"/>
<rect x="1241.10" y="533.60" width="5.40" height="32.00" rx="1.00" fill="#969696"/>
<line x1="1214.00" y1="549.60" x2="1262.00" y2="549.60" stroke="#969696" stroke-width="2.50" stroke-linecap="butt"/>
<line x1="1226.00" y1="549.60" x2="1250.00" y2="549.60" stroke="#dcdcdc" stroke-width="1.00" stroke-linecap="butt"/>
<line x1="1238.00" y1="537.60" x2="1238.00" y2="561.60" stroke="#dcdcdc" stroke-width="1.00" stroke-linecap="butt"/>
<circle cx="1199.30" cy="537.90" r="1.30" fill="#b4b4b4"/>
<circle cx="1199.30" cy="561.30" r="1.30" fill="#b4b4b4"/>
<circle cx="1276.70" cy="537.90" r="1.30" fill="#b4b4b4"/>
<circle cx="1276.70" cy="561.30" r="1.30" fill="#b4b4b4"/>
<path transform="translate(1198.75 504.55)" d="M13.84 3.46 L10.38 0.00 L3.46 0.00 L0.00 3.46 L0.00 17.30 L3.46 20.76 L10.38 20.76 L13.84 17.30 M31.14 20.76 L31.14 0.00 L20.76 10.38 L34.60 10.38" fill="none" stroke="#969696" stroke-width="2.30" stroke-linecap="round" stroke-linejoin="round"/>
<path transform="translate(1200.45 575.75)" d="M0.00 6.92 L6.92 0.00 L6.92 20.76 M0.00 20.76 L13.84 20.76 M24.22 0.00 L31.14 0.00 L34.60 3.46 L34.60 17.30 L31.14 20.76 L24.22 20.76 L20.76 17.30 L20.76 3.46 L24.22 0.00 M20.76 17.30 L34.60 3.46 M44.98 0.00 L51.90 0.00 L55.36 3.46 L55.36 17.30 L51.90 20.76 L44.98 20.76 L41.52 17.30 L41.52 3.46 L44.98 0.00 M41.52 17.30 L55.36 3.46 M62.28 20.76 L62.28 6.92 L72.66 6.92 L76.12 10.38 L76.12 20.76" fill="none" stroke="#969696" stroke-width="2.30" stroke-linecap="round" stroke-linejoin="round"/>
<rect x="1325.40" y="463.00" width="41.20" height="77.60" rx="8.00" fill="none" stroke="#969696" stroke-width="2.4"/>
<rect x="1338.70" y="456.20" width="14.60" height="7.20" rx="0.00" fill="#969696"/>
<rect x="1338.70" y="540.40" width="14.60" height="7.20" rx="0.00" fill="#969696"/>
<rect x="1330.00" y="493.30" width="32.00" height="5.40" rx="1.00" fill="#969696"/>
<rect x="1330.00" y="504.90" width="32.00" height="5.40" rx="1.00" fill="#969696"/>
<line x1="1346.00" y1="477.80" x2="1346.00" y2="525.80" stroke="#969696" stroke-width="2.50" stroke-linecap="butt"/>
<line x1="1346.00" y1="489.80" x2="1346.00" y2="513.80" stroke="#dcdcdc" stroke-width="1.00" stroke-linecap="butt"/>
<line x1="1334.00" y1="501.80" x2="1358.00" y2="501.80" stroke="#dcdcdc" stroke-width="1.00" stroke-linecap="butt"/>
<circle cx="1334.30" cy="463.10" r="1.30" fill="#b4b4b4"/>
<circle cx="1334.30" cy="540.50" r="1.30" fill="#b4b4b4"/>
<circle cx="1357.70" cy="463.10" r="1.30" fill="#b4b4b4"/>
<circle cx="1357.70" cy="540.50" r="1.30" fill="#b4b4b4"/>
<path transform="matrix(0 -1 1 0 1299.50 546.30)" d="M0.00 6.92 L6.92 0.00 L6.92 20.76 M0.00 20.76 L13.84 20.76 M24.22 0.00 L31.14 0.00 L34.60 3.46 L34.60 17.30 L31.14 20.76 L24.22 20.76 L20.76 17.30 L20.76 3.46 L24.22 0.00 M20.76 17.30 L34.60 3.46 M44.98 0.00 L51.90 0.00 L55.36 3.46 L55.36 17.30 L51.90 20.76 L44.98 20.76 L41.52 17.30 L41.52 3.46 L44.98 0.00 M41.52 17.30 L55.36 3.46 M62.28 20.76 L62.28 6.92 L72.66 6.92 L76.12 10.38 L76.12 20.76" fill="none" stroke="#969696" stroke-width="2.20" stroke-linecap="round" stroke-linejoin="round"/>
<path transform="matrix(0 -1 1 0 1371.60 504.10)" d="M13.84 3.46 L10.38 0.00 L3.46 0.00 L0.00 3.46 L0.00 17.30 L3.46 20.76 L10.38 20.76 L13.84 17.30 M20.76 3.46 L24.22 0.00 L31.14 0.00 L34.60 3.46 L34.60 6.92 L31.14 10.38 L34.60 13.84 L34.60 17.30 L31.14 20.76 L24.22 20.76 L20.76 17.30 M25.95 10.38 L31.14 10.38" fill="none" stroke="#969696" stroke-width="2.20" stroke-linecap="round" stroke-linejoin="round"/>
<rect x="1328.90" y="614.30" width="77.60" height="41.20" rx="8.00" fill="none" stroke="#969696" stroke-width="2.4"/>
<rect x="1322.10" y="627.60" width="7.20" height="14.60" rx="0.00" fill="#969696"/>
<rect x="1406.30" y="627.60" width="7.20" height="14.60" rx="0.00" fill="#969696"/>
<rect x="1359.20" y="618.90" width="5.40" height="32.00" rx="1.00" fill="#969696"/>
<rect x="1370.80" y="618.90" width="5.40" height="32.00" rx="1.00" fill="#969696"/>
<line x1="1343.70" y1="634.90" x2="1391.70" y2="634.90" stroke="#969696" stroke-width="2.50" stroke-linecap="butt"/>
<line x1="1355.70" y1="634.90" x2="1379.70" y2="634.90" stroke="#dcdcdc" stroke-width="1.00" stroke-linecap="butt"/>
<line x1="1367.70" y1="622.90" x2="1367.70" y2="646.90" stroke="#dcdcdc" stroke-width="1.00" stroke-linecap="butt"/>
<circle cx="1329.00" cy="623.20" r="1.30" fill="#b4b4b4"/>
<circle cx="1329.00" cy="646.60" r="1.30" fill="#b4b4b4"/>
<circle cx="1406.40" cy="623.20" r="1.30" fill="#b4b4b4"/>
<circle cx="1406.40" cy="646.60" r="1.30" fill="#b4b4b4"/>
<path transform="translate(1344.05 588.45)" d="M0.00 6.92 L6.92 0.00 L6.92 20.76 M0.00 20.76 L13.84 20.76 M24.22 0.00 L31.14 0.00 L34.60 3.46 L34.60 17.30 L31.14 20.76 L24.22 20.76 L20.76 17.30 L20.76 3.46 L24.22 0.00 M20.76 17.30 L34.60 3.46 M41.52 6.92 L41.52 17.30 L44.98 20.76 L51.90 20.76 L55.36 17.30 M55.36 6.92 L55.36 20.76" fill="none" stroke="#969696" stroke-width="2.30" stroke-linecap="round" stroke-linejoin="round"/>
<path transform="translate(1365.45 661.75)" d="M13.84 3.46 L10.38 0.00 L3.46 0.00 L0.00 3.46 L0.00 17.30 L3.46 20.76 L10.38 20.76 L13.84 17.30 M34.60 0.00 L20.76 0.00 L20.76 11.42 L24.22 8.30 L31.14 8.30 L34.60 11.76 L34.60 17.30 L31.14 20.76 L24.22 20.76 L20.76 17.30" fill="none" stroke="#969696" stroke-width="2.30" stroke-linecap="round" stroke-linejoin="round"/>
<path d="M1196.4 667 A48.20 48.20 0 1 1 1273.1 667 Z" fill="none" stroke="#969696" stroke-width="2.40" stroke-linecap="butt" stroke-linejoin="round"/>
<line x1="1186.60" y1="642.40" x2="1195.40" y2="642.40" stroke="#969696" stroke-width="2.20" stroke-linecap="butt"/>
<line x1="1274.50" y1="642.40" x2="1282.90" y2="642.40" stroke="#969696" stroke-width="2.20" stroke-linecap="butt"/>
<line x1="1226.00" y1="638.50" x2="1243.00" y2="638.50" stroke="#dcdcdc" stroke-width="1.00" stroke-linecap="butt"/>
<line x1="1234.50" y1="630.00" x2="1234.50" y2="647.00" stroke="#dcdcdc" stroke-width="1.00" stroke-linecap="butt"/>
<path transform="translate(1292.15 605.15)" d="M0.00 0.00 L0.00 10.38 L6.92 20.76 L13.84 10.38 L13.84 0.00 M20.76 20.76 L20.76 0.00 L31.14 0.00 L34.60 3.46 L34.60 9.34 L31.14 12.80 L20.76 12.80 M28.37 12.80 L34.60 20.76 M55.36 0.00 L41.52 0.00 L41.52 20.76 L55.36 20.76 M41.52 10.38 L51.90 10.38 M76.12 4.15 L71.97 0.00 L65.74 0.00 L62.28 3.46 L62.28 17.30 L65.74 20.76 L72.66 20.76 L76.12 17.30 L76.12 10.38 L68.16 10.38 M83.04 6.92 L89.96 0.00 L89.96 20.76 M83.04 20.76 L96.88 20.76" fill="none" stroke="#969696" stroke-width="2.30" stroke-linecap="round" stroke-linejoin="round"/>
<path transform="matrix(0 -1 1 0 39.85 605.55)" d="M0.00 4.00 L4.00 0.00 L12.00 0.00 L16.00 4.00 L16.00 8.00 L0.00 22.00 L0.00 24.00 L16.00 24.00 M28.00 0.00 L36.00 0.00 L40.00 4.00 L40.00 20.00 L36.00 24.00 L28.00 24.00 L24.00 20.00 L24.00 4.00 L28.00 0.00 M24.00 20.00 L40.00 4.00 M48.00 8.00 L56.00 0.00 L56.00 24.00 M48.00 24.00 L64.00 24.00 M84.00 24.00 L84.00 0.00 L72.00 12.00 L88.00 12.00" fill="none" stroke="#3fa6ad" stroke-width="1.70" stroke-linecap="round" stroke-linejoin="round"/>
<line x1="30.00" y1="513.30" x2="48.00" y2="513.30" stroke="#3fa6ad" stroke-width="1.20" stroke-linecap="butt"/>
<line x1="39.00" y1="504.30" x2="39.00" y2="522.30" stroke="#3fa6ad" stroke-width="1.20" stroke-linecap="butt"/></svg></body></html>
